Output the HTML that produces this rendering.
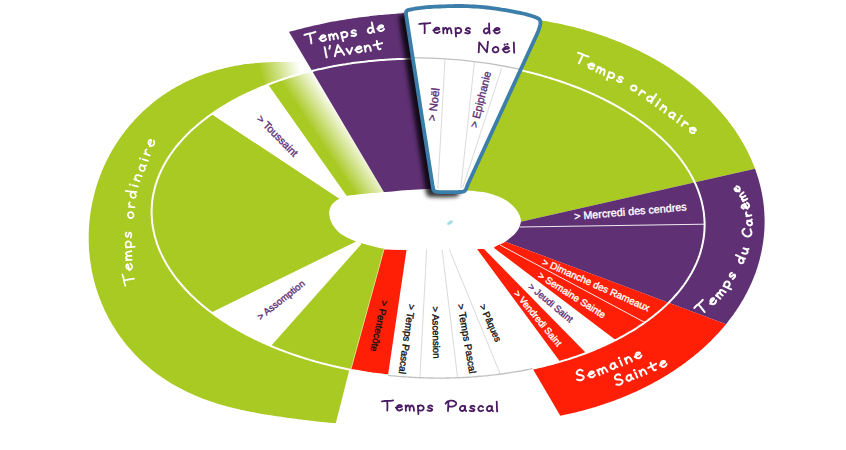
<!DOCTYPE html>
<html><head><meta charset="utf-8"><title>Année liturgique</title>
<style>html,body{margin:0;padding:0;background:#fff;font-family:"Liberation Sans",sans-serif;}svg{display:block}</style>
</head><body>
<svg width="846" height="450" viewBox="0 0 846 450" font-family="Liberation Sans, sans-serif">
<defs>
<linearGradient id="fadeRing" gradientUnits="userSpaceOnUse" x1="260" y1="72" x2="299" y2="63">
<stop offset="0" stop-color="#a9c923"/><stop offset="1" stop-color="#a9c923" stop-opacity="0"/></linearGradient>
<linearGradient id="fadeWedge" gradientUnits="userSpaceOnUse" x1="306" y1="140" x2="343" y2="115.5">
<stop offset="0.25" stop-color="#a9c923"/><stop offset="1" stop-color="#a9c923" stop-opacity="0"/></linearGradient>
<filter id="sh" x="-30%" y="-30%" width="160%" height="160%"><feGaussianBlur stdDeviation="2"/></filter>
<filter id="sm" x="-50%" y="-50%" width="200%" height="200%"><feGaussianBlur stdDeviation="0.7"/></filter>
</defs>
<path d="M339.3 198.5 L211.6 114.1 L210.7 114.8 L209.2 115.8 L207.7 116.9 L206.3 118.0 L204.9 119.1 L203.4 120.2 L202.0 121.3 L200.7 122.4 L199.3 123.5 L198.0 124.6 L196.6 125.7 L195.3 126.9 L194.0 128.0 L192.7 129.2 L191.5 130.3 L190.2 131.5 L189.0 132.7 L187.8 133.9 L186.6 135.0 L185.5 136.2 L184.3 137.4 L183.2 138.6 L182.1 139.8 L181.0 141.1 L179.9 142.3 L178.9 143.5 L177.8 144.7 L176.8 146.0 L175.8 147.2 L174.8 148.5 L173.9 149.7 L172.9 151.0 L172.0 152.3 L171.1 153.5 L170.2 154.8 L169.4 156.1 L168.5 157.4 L167.7 158.7 L166.9 160.0 L166.1 161.3 L165.4 162.6 L164.6 163.9 L163.9 165.2 L163.2 166.5 L162.5 167.8 L161.9 169.1 L161.2 170.5 L160.6 171.8 L160.0 173.1 L159.4 174.5 L158.9 175.8 L158.3 177.2 L157.8 178.5 L157.3 179.9 L156.8 181.2 L156.4 182.6 L155.9 183.9 L155.5 185.3 L155.1 186.7 L154.8 188.0 L154.4 189.4 L154.1 190.8 L153.8 192.1 L153.5 193.5 L153.2 194.9 L153.0 196.3 L152.7 197.7 L152.5 199.0 L152.3 200.4 L152.2 201.8 L152.0 203.2 L151.9 204.6 L151.8 206.0 L151.7 207.4 L151.7 208.7 L151.6 210.1 L151.6 211.5 L151.6 212.9 L151.6 214.3 L151.7 215.7 L151.8 217.1 L151.8 218.5 L152.0 219.9 L152.1 221.3 L152.2 222.7 L152.4 224.1 L152.6 225.5 L152.8 226.9 L153.1 228.2 L153.3 229.6 L153.6 231.0 L153.9 232.4 L154.2 233.8 L154.5 235.2 L154.9 236.6 L155.3 238.0 L155.7 239.3 L156.1 240.7 L156.6 242.1 L157.0 243.5 L157.5 244.9 L158.0 246.2 L158.5 247.6 L159.1 249.0 L159.6 250.3 L160.2 251.7 L160.8 253.1 L161.5 254.4 L162.1 255.8 L162.8 257.1 L163.5 258.5 L164.2 259.8 L164.9 261.2 L165.7 262.5 L166.4 263.8 L167.2 265.2 L168.0 266.5 L168.9 267.8 L169.7 269.2 L170.6 270.5 L171.5 271.8 L172.4 273.1 L173.3 274.4 L174.2 275.7 L175.2 277.0 L176.2 278.3 L177.2 279.6 L178.2 280.9 L179.3 282.2 L180.3 283.4 L181.4 284.7 L182.5 286.0 L183.6 287.2 L184.8 288.5 L185.9 289.7 L187.1 291.0 L188.3 292.2 L189.5 293.5 L190.7 294.7 L192.0 295.9 L193.2 297.1 L194.5 298.3 L195.8 299.5 L197.1 300.7 L198.5 301.9 L199.8 303.1 L201.2 304.3 L202.6 305.5 L204.0 306.6 L205.4 307.8 L206.8 308.9 L208.3 310.1 L209.8 311.2 L211.3 312.3 L212.8 313.5 L214.3 314.6 L215.8 315.7 L217.4 316.8 L218.9 317.9 L220.5 319.0 L222.1 320.1 L223.8 321.1 L225.4 322.2 L227.0 323.2 L228.7 324.3 L230.4 325.3 L232.1 326.4 L233.8 327.4 L235.5 328.4 L237.2 329.4 L239.0 330.4 L240.8 331.4 L242.5 332.4 L244.3 333.3 L246.1 334.3 L248.0 335.3 L249.8 336.2 L251.7 337.1 L253.5 338.1 L255.4 339.0 L257.3 339.9 L259.2 340.8 L261.1 341.7 L263.0 342.6 L265.0 343.4 L266.9 344.3 L268.9 345.2 L270.9 346.0 L272.9 346.8 L274.9 347.7 L276.9 348.5 L278.9 349.3 L281.0 350.1 L283.0 350.8 L285.1 351.6 L287.1 352.4 L289.2 353.1 L291.3 353.9 L293.4 354.6 L295.5 355.3 L297.6 356.0 L299.8 356.7 L301.9 357.4 L304.1 358.1 L306.2 358.8 L308.4 359.4 L310.6 360.1 L312.8 360.7 L315.0 361.4 L317.2 362.0 L319.4 362.6 L321.6 363.2 L323.8 363.8 L326.1 364.3 L328.3 364.9 L330.6 365.4 L332.8 366.0 L335.1 366.5 L337.4 367.0 L339.7 367.5 L342.0 368.0 L344.3 368.5 L346.6 369.0 L348.9 369.4 L350.8 369.8 L384.0 249.4 L390.6 225.4 Z" fill="#a9c923"/>
<path d="M308.5 62.7 L301.6 62.4 L300.1 62.3 L298.6 62.3 L297.1 62.2 L295.6 62.1 L294.1 62.1 L292.6 62.0 L291.1 62.0 L289.6 62.0 L288.0 61.9 L286.5 61.9 L285.0 61.9 L283.5 61.9 L282.0 61.9 L280.5 61.9 L279.0 61.9 L277.4 61.9 L275.9 62.0 L274.4 62.0 L272.9 62.0 L271.3 62.1 L269.8 62.2 L268.3 62.2 L266.7 62.3 L265.2 62.4 L263.7 62.5 L262.1 62.6 L260.6 62.7 L259.1 62.8 L257.5 62.9 L256.0 63.1 L254.4 63.2 L252.9 63.4 L251.3 63.5 L249.8 63.7 L248.2 63.9 L246.7 64.1 L245.1 64.3 L243.5 64.5 L243.3 64.6 L255.0 89.9 L256.6 89.3 L258.5 88.4 L260.4 87.6 L262.3 86.8 L264.2 86.1 L266.2 85.3 L268.1 84.5 L270.1 83.8 L272.1 83.0 L274.1 82.3 L276.1 81.6 L278.1 80.9 L280.2 80.1 L282.2 79.5 L284.3 78.8 L286.3 78.1 L288.4 77.4 L290.5 76.8 L292.6 76.2 L294.7 75.5 L296.8 74.9 L299.0 74.3 L301.1 73.7 L303.2 73.1 L305.4 72.6 L307.6 72.0 L309.7 71.4 L311.6 71.0 Z" fill="url(#fadeRing)"/>
<path d="M248.0 63.9 L246.7 64.1 L245.1 64.3 L243.5 64.5 L242.0 64.8 L240.4 65.0 L238.9 65.3 L237.3 65.5 L235.8 65.8 L234.2 66.1 L232.6 66.4 L231.1 66.7 L229.5 67.0 L228.0 67.4 L226.4 67.7 L224.8 68.1 L223.3 68.5 L221.7 68.9 L220.2 69.3 L218.6 69.7 L217.0 70.1 L215.5 70.5 L213.9 71.0 L212.4 71.5 L210.8 72.0 L209.3 72.5 L207.7 73.0 L206.2 73.5 L204.6 74.0 L203.1 74.6 L201.6 75.2 L200.0 75.7 L198.5 76.3 L197.0 77.0 L195.5 77.6 L193.9 78.2 L192.4 78.9 L190.9 79.5 L189.4 80.2 L187.9 80.9 L186.4 81.6 L184.9 82.4 L183.4 83.1 L181.9 83.9 L180.5 84.7 L179.0 85.4 L177.5 86.2 L176.1 87.1 L174.6 87.9 L173.2 88.7 L171.7 89.6 L170.3 90.5 L168.9 91.4 L167.5 92.3 L166.0 93.2 L164.6 94.2 L163.2 95.1 L161.9 96.1 L160.5 97.1 L159.1 98.0 L157.7 99.1 L156.4 100.1 L155.0 101.1 L153.7 102.2 L152.4 103.2 L151.1 104.3 L149.8 105.4 L148.5 106.5 L147.2 107.7 L145.9 108.8 L144.6 109.9 L143.4 111.1 L142.1 112.3 L140.9 113.5 L139.7 114.7 L138.5 115.9 L137.3 117.1 L136.1 118.4 L134.9 119.6 L133.7 120.9 L132.6 122.2 L131.4 123.5 L130.3 124.8 L129.2 126.1 L128.1 127.4 L127.0 128.8 L125.9 130.1 L124.8 131.5 L123.8 132.9 L122.7 134.3 L121.7 135.7 L120.7 137.1 L119.7 138.5 L118.7 139.9 L117.8 141.4 L116.8 142.8 L115.9 144.3 L114.9 145.8 L114.0 147.3 L113.1 148.8 L112.2 150.3 L111.4 151.8 L110.5 153.3 L109.7 154.8 L108.9 156.4 L108.0 157.9 L107.3 159.5 L106.5 161.1 L105.7 162.6 L105.0 164.2 L104.2 165.8 L103.5 167.4 L102.8 169.0 L102.1 170.6 L101.5 172.3 L100.8 173.9 L100.2 175.5 L99.6 177.2 L99.0 178.8 L98.4 180.5 L97.8 182.2 L97.3 183.8 L96.7 185.5 L96.2 187.2 L95.7 188.9 L95.2 190.6 L94.8 192.3 L94.3 194.0 L93.9 195.7 L93.5 197.4 L93.1 199.1 L92.7 200.8 L92.3 202.5 L92.0 204.3 L91.6 206.0 L91.3 207.7 L91.0 209.5 L90.7 211.2 L90.5 213.0 L90.2 214.7 L90.0 216.4 L89.8 218.2 L89.6 220.0 L89.4 221.7 L89.3 223.5 L89.2 225.2 L89.0 227.0 L88.9 228.7 L88.9 230.5 L88.8 232.3 L88.7 234.0 L88.7 235.8 L88.7 237.5 L88.7 239.3 L88.7 241.1 L88.8 242.8 L88.8 244.6 L88.9 246.3 L89.0 248.1 L89.1 249.9 L89.2 251.6 L89.4 253.4 L89.6 255.1 L89.7 256.9 L89.9 258.6 L90.2 260.4 L90.4 262.1 L90.7 263.8 L90.9 265.6 L91.2 267.3 L91.5 269.0 L91.8 270.8 L92.2 272.5 L92.6 274.2 L92.9 275.9 L93.3 277.6 L93.7 279.3 L94.2 281.0 L94.6 282.7 L95.1 284.4 L95.6 286.1 L96.1 287.7 L96.6 289.4 L97.1 291.1 L97.7 292.7 L98.2 294.4 L98.8 296.0 L99.4 297.6 L100.0 299.3 L100.7 300.9 L101.3 302.5 L102.0 304.1 L102.7 305.7 L103.4 307.3 L104.1 308.9 L104.8 310.5 L105.6 312.0 L106.3 313.6 L107.1 315.1 L107.9 316.7 L108.7 318.2 L109.5 319.7 L110.4 321.2 L111.2 322.7 L112.1 324.2 L113.0 325.7 L113.9 327.1 L114.8 328.6 L115.7 330.0 L116.6 331.5 L117.6 332.9 L118.6 334.3 L119.5 335.7 L120.5 337.1 L121.6 338.5 L122.6 339.8 L123.6 341.2 L124.7 342.5 L125.7 343.9 L126.8 345.2 L127.9 346.5 L129.0 347.8 L130.1 349.1 L131.2 350.3 L132.3 351.6 L133.5 352.8 L134.6 354.1 L135.8 355.3 L137.0 356.5 L138.2 357.7 L139.4 358.9 L140.6 360.0 L141.8 361.2 L143.0 362.3 L144.3 363.4 L145.5 364.5 L146.8 365.6 L148.1 366.7 L149.3 367.8 L150.6 368.8 L151.9 369.9 L153.2 370.9 L154.5 371.9 L155.8 372.9 L157.2 373.9 L158.5 374.9 L159.8 375.8 L161.2 376.8 L162.5 377.7 L163.9 378.6 L165.3 379.5 L166.6 380.4 L168.0 381.3 L169.4 382.2 L170.8 383.0 L172.2 383.9 L173.6 384.7 L175.0 385.5 L176.4 386.3 L177.8 387.1 L179.2 387.8 L180.6 388.6 L182.1 389.3 L183.5 390.0 L184.9 390.8 L186.3 391.5 L187.8 392.2 L189.2 392.8 L190.7 393.5 L192.1 394.1 L193.6 394.8 L195.0 395.4 L196.5 396.0 L197.9 396.6 L199.4 397.2 L200.8 397.8 L202.3 398.4 L203.8 398.9 L205.2 399.5 L206.7 400.0 L208.1 400.5 L209.6 401.0 L211.1 401.5 L212.5 402.0 L214.0 402.5 L215.5 403.0 L216.9 403.5 L218.4 403.9 L219.9 404.4 L221.3 404.8 L222.8 405.2 L224.3 405.6 L225.7 406.0 L227.2 406.4 L228.7 406.8 L230.1 407.2 L231.6 407.6 L233.1 407.9 L234.5 408.3 L236.0 408.6 L237.4 409.0 L238.9 409.3 L240.4 409.7 L241.8 410.0 L243.3 410.3 L244.7 410.6 L246.2 410.9 L247.6 411.2 L249.1 411.5 L250.5 411.8 L252.0 412.1 L253.4 412.3 L254.9 412.6 L256.3 412.9 L257.8 413.1 L259.2 413.4 L260.7 413.7 L262.1 413.9 L263.6 414.2 L265.0 414.4 L266.5 414.6 L267.9 414.9 L269.4 415.1 L270.8 415.3 L272.3 415.6 L273.7 415.8 L275.2 416.0 L276.6 416.2 L278.1 416.4 L279.5 416.6 L281.0 416.8 L282.4 417.1 L283.9 417.3 L285.3 417.5 L286.8 417.7 L288.2 417.9 L289.7 418.1 L291.2 418.3 L292.6 418.5 L294.1 418.6 L295.6 418.8 L297.0 419.0 L298.5 419.2 L300.0 419.4 L301.5 419.6 L302.9 419.8 L304.4 420.0 L305.9 420.1 L307.4 420.3 L308.9 420.5 L310.4 420.7 L311.9 420.8 L313.4 421.0 L315.0 421.2 L316.5 421.4 L318.0 421.5 L319.5 421.7 L321.1 421.9 L322.6 422.0 L324.2 422.2 L325.7 422.3 L327.3 422.5 L328.8 422.7 L330.4 422.8 L332.0 423.0 L333.6 423.1 L335.8 423.3 L349.4 369.5 L348.9 369.4 L346.6 369.0 L344.3 368.5 L342.0 368.0 L339.7 367.5 L337.4 367.0 L335.1 366.5 L332.8 366.0 L330.6 365.4 L328.3 364.9 L326.1 364.3 L323.8 363.8 L321.6 363.2 L319.4 362.6 L317.2 362.0 L315.0 361.4 L312.8 360.7 L310.6 360.1 L308.4 359.4 L306.2 358.8 L304.1 358.1 L301.9 357.4 L299.8 356.7 L297.6 356.0 L295.5 355.3 L293.4 354.6 L291.3 353.9 L289.2 353.1 L287.1 352.4 L285.1 351.6 L283.0 350.8 L281.0 350.1 L278.9 349.3 L276.9 348.5 L274.9 347.7 L272.9 346.8 L270.9 346.0 L268.9 345.2 L266.9 344.3 L265.0 343.4 L263.0 342.6 L261.1 341.7 L259.2 340.8 L257.3 339.9 L255.4 339.0 L253.5 338.1 L251.7 337.1 L249.8 336.2 L248.0 335.3 L246.1 334.3 L244.3 333.3 L242.5 332.4 L240.8 331.4 L239.0 330.4 L237.2 329.4 L235.5 328.4 L233.8 327.4 L232.1 326.4 L230.4 325.3 L228.7 324.3 L227.0 323.2 L225.4 322.2 L223.8 321.1 L222.1 320.1 L220.5 319.0 L218.9 317.9 L217.4 316.8 L215.8 315.7 L214.3 314.6 L212.8 313.5 L211.3 312.3 L209.8 311.2 L208.3 310.1 L206.8 308.9 L205.4 307.8 L204.0 306.6 L202.6 305.5 L201.2 304.3 L199.8 303.1 L198.5 301.9 L197.1 300.7 L195.8 299.5 L194.5 298.3 L193.2 297.1 L192.0 295.9 L190.7 294.7 L189.5 293.5 L188.3 292.2 L187.1 291.0 L185.9 289.7 L184.8 288.5 L183.6 287.2 L182.5 286.0 L181.4 284.7 L180.3 283.4 L179.3 282.2 L178.2 280.9 L177.2 279.6 L176.2 278.3 L175.2 277.0 L174.2 275.7 L173.3 274.4 L172.4 273.1 L171.5 271.8 L170.6 270.5 L169.7 269.2 L168.9 267.8 L168.0 266.5 L167.2 265.2 L166.4 263.8 L165.7 262.5 L164.9 261.2 L164.2 259.8 L163.5 258.5 L162.8 257.1 L162.1 255.8 L161.5 254.4 L160.8 253.1 L160.2 251.7 L159.6 250.3 L159.1 249.0 L158.5 247.6 L158.0 246.2 L157.5 244.9 L157.0 243.5 L156.6 242.1 L156.1 240.7 L155.7 239.3 L155.3 238.0 L154.9 236.6 L154.5 235.2 L154.2 233.8 L153.9 232.4 L153.6 231.0 L153.3 229.6 L153.1 228.2 L152.8 226.9 L152.6 225.5 L152.4 224.1 L152.2 222.7 L152.1 221.3 L152.0 219.9 L151.8 218.5 L151.8 217.1 L151.7 215.7 L151.6 214.3 L151.6 212.9 L151.6 211.5 L151.6 210.1 L151.7 208.7 L151.7 207.4 L151.8 206.0 L151.9 204.6 L152.0 203.2 L152.2 201.8 L152.3 200.4 L152.5 199.0 L152.7 197.7 L153.0 196.3 L153.2 194.9 L153.5 193.5 L153.8 192.1 L154.1 190.8 L154.4 189.4 L154.8 188.0 L155.1 186.7 L155.5 185.3 L155.9 183.9 L156.4 182.6 L156.8 181.2 L157.3 179.9 L157.8 178.5 L158.3 177.2 L158.9 175.8 L159.4 174.5 L160.0 173.1 L160.6 171.8 L161.2 170.5 L161.9 169.1 L162.5 167.8 L163.2 166.5 L163.9 165.2 L164.6 163.9 L165.4 162.6 L166.1 161.3 L166.9 160.0 L167.7 158.7 L168.5 157.4 L169.4 156.1 L170.2 154.8 L171.1 153.5 L172.0 152.3 L172.9 151.0 L173.9 149.7 L174.8 148.5 L175.8 147.2 L176.8 146.0 L177.8 144.7 L178.9 143.5 L179.9 142.3 L181.0 141.1 L182.1 139.8 L183.2 138.6 L184.3 137.4 L185.5 136.2 L186.6 135.0 L187.8 133.9 L189.0 132.7 L190.2 131.5 L191.5 130.3 L192.7 129.2 L194.0 128.0 L195.3 126.9 L196.6 125.7 L198.0 124.6 L199.3 123.5 L200.7 122.4 L202.0 121.3 L203.4 120.2 L204.9 119.1 L206.3 118.0 L207.7 116.9 L209.2 115.8 L210.7 114.8 L212.2 113.7 L213.7 112.7 L215.2 111.6 L216.8 110.6 L218.3 109.6 L219.9 108.5 L221.5 107.5 L223.1 106.5 L224.8 105.5 L226.4 104.6 L228.1 103.6 L229.7 102.6 L231.4 101.7 L233.1 100.7 L234.8 99.8 L236.6 98.9 L238.3 97.9 L240.1 97.0 L241.9 96.1 L243.6 95.2 L245.4 94.4 L247.3 93.5 L249.1 92.6 L250.9 91.8 L252.8 90.9 L254.7 90.1 L256.6 89.3 L258.5 88.4 L260.4 87.6 L260.7 87.5 Z" fill="#a9c923"/>
<path d="M339.3 198.5 L211.6 114.1 L212.2 113.7 L213.7 112.7 L215.2 111.6 L216.8 110.6 L218.3 109.6 L219.9 108.5 L221.5 107.5 L223.1 106.5 L224.8 105.5 L226.4 104.6 L228.1 103.6 L229.7 102.6 L231.4 101.7 L233.1 100.7 L234.8 99.8 L236.6 98.9 L238.3 97.9 L240.1 97.0 L241.9 96.1 L243.6 95.2 L245.4 94.4 L247.3 93.5 L249.1 92.6 L250.9 91.8 L252.8 90.9 L254.7 90.1 L256.6 89.3 L258.5 88.4 L260.4 87.6 L262.3 86.8 L264.2 86.1 L266.2 85.3 L268.1 84.5 L346.8 196.0 Z" fill="#fff"/>
<path d="M361.7 243.7 L271.0 346.0 L270.9 346.0 L268.9 345.2 L266.9 344.3 L265.0 343.4 L263.0 342.6 L261.1 341.7 L259.2 340.8 L257.3 339.9 L255.4 339.0 L253.5 338.1 L251.7 337.1 L249.8 336.2 L248.0 335.3 L246.1 334.3 L244.3 333.3 L242.5 332.4 L240.8 331.4 L239.0 330.4 L237.2 329.4 L235.5 328.4 L233.8 327.4 L232.1 326.4 L230.4 325.3 L228.7 324.3 L227.0 323.2 L225.4 322.2 L223.8 321.1 L222.1 320.1 L220.5 319.0 L218.9 317.9 L217.4 316.8 L215.8 315.7 L214.3 314.6 L212.8 313.5 L211.4 312.5 L356.7 241.2 Z" fill="#fff"/>
<path d="M346.8 196.0 L268.1 84.5 L268.1 84.5 L270.1 83.8 L272.1 83.0 L274.1 82.3 L276.1 81.6 L278.1 80.9 L280.2 80.1 L282.2 79.5 L284.3 78.8 L286.3 78.1 L288.4 77.4 L290.5 76.8 L292.6 76.2 L294.7 75.5 L296.8 74.9 L299.0 74.3 L301.1 73.7 L303.2 73.1 L305.4 72.6 L307.6 72.0 L309.7 71.4 L311.9 70.9 L312.0 70.9 L384.0 192.3 Z" fill="#fff"/>
<path d="M346.8 196.0 L268.1 84.5 L268.1 84.5 L270.1 83.8 L272.1 83.0 L274.1 82.3 L276.1 81.6 L278.1 80.9 L280.2 80.1 L282.2 79.5 L284.3 78.8 L286.3 78.1 L288.4 77.4 L290.5 76.8 L292.6 76.2 L294.7 75.5 L296.8 74.9 L299.0 74.3 L301.1 73.7 L303.2 73.1 L305.4 72.6 L307.6 72.0 L309.7 71.4 L311.9 70.9 L312.0 70.9 L384.0 192.3 Z" fill="url(#fadeWedge)"/>
<path d="M384.0 192.3 L288.9 31.8 L289.1 31.8 L291.1 31.3 L293.2 30.8 L295.5 30.2 L297.9 29.6 L300.4 28.9 L303.0 28.3 L305.6 27.6 L308.4 27.0 L311.2 26.3 L314.0 25.6 L316.8 25.0 L319.6 24.4 L322.3 23.7 L325.0 23.2 L327.7 22.6 L330.3 22.1 L332.9 21.6 L335.4 21.2 L338.0 20.7 L340.6 20.3 L343.1 19.9 L345.7 19.4 L348.3 19.1 L350.8 18.7 L353.4 18.3 L355.9 18.0 L358.4 17.6 L360.9 17.3 L363.4 17.0 L365.8 16.7 L368.2 16.4 L370.5 16.1 L372.8 15.8 L375.0 15.6 L377.3 15.3 L379.4 15.1 L381.6 14.9 L383.7 14.7 L385.8 14.5 L387.8 14.4 L389.9 14.2 L392.0 14.0 L394.1 13.9 L396.1 13.7 L398.2 13.6 L400.3 13.4 L402.4 13.3 L404.6 13.1 L406.8 12.9 L409.2 12.8 L411.7 12.6 L414.2 12.5 L416.8 12.3 L419.3 12.2 L421.9 12.0 L424.4 11.9 L425.2 11.8 L440.0 190.0 Z" fill="#5f3074"/>
<path d="M452.0 190.0 L469.4 15.7 L470.1 15.7 L472.5 15.7 L475.0 15.6 L477.4 15.6 L479.9 15.6 L482.4 15.6 L484.8 15.6 L487.3 15.6 L489.7 15.7 L492.2 15.7 L494.6 15.8 L497.1 15.9 L499.5 16.0 L501.9 16.2 L504.4 16.3 L506.8 16.5 L509.3 16.6 L511.7 16.8 L514.2 17.0 L516.6 17.3 L519.0 17.5 L521.5 17.7 L523.9 18.0 L526.3 18.3 L528.7 18.6 L531.1 18.9 L533.6 19.2 L536.0 19.6 L538.4 19.9 L540.8 20.3 L543.2 20.7 L545.6 21.1 L548.0 21.5 L550.3 22.0 L552.7 22.4 L555.1 22.9 L557.5 23.3 L559.8 23.8 L562.2 24.3 L564.5 24.9 L566.9 25.4 L569.2 26.0 L571.5 26.5 L573.9 27.1 L576.2 27.7 L578.5 28.3 L580.8 28.9 L583.1 29.6 L585.4 30.2 L587.7 30.9 L589.9 31.6 L592.2 32.3 L594.5 33.0 L596.7 33.7 L599.0 34.5 L601.2 35.2 L603.4 36.0 L605.6 36.8 L607.8 37.6 L610.0 38.4 L612.2 39.2 L614.4 40.0 L616.5 40.9 L618.7 41.8 L620.8 42.6 L623.0 43.5 L625.1 44.4 L627.2 45.4 L629.3 46.3 L631.4 47.2 L633.5 48.2 L635.5 49.2 L637.6 50.1 L639.6 51.1 L641.7 52.2 L643.7 53.2 L645.7 54.2 L647.7 55.3 L649.7 56.3 L651.7 57.4 L653.6 58.5 L655.6 59.6 L657.5 60.7 L659.4 61.8 L661.3 62.9 L663.2 64.1 L665.1 65.2 L667.0 66.4 L668.8 67.6 L670.6 68.8 L672.5 70.0 L674.3 71.2 L676.1 72.4 L677.8 73.7 L679.6 74.9 L681.4 76.2 L683.1 77.4 L684.8 78.7 L686.5 80.0 L688.2 81.3 L689.9 82.6 L691.5 84.0 L693.2 85.3 L694.8 86.6 L696.4 88.0 L698.0 89.3 L699.6 90.7 L701.1 92.1 L702.7 93.5 L704.2 94.9 L705.7 96.3 L707.2 97.7 L708.7 99.2 L710.1 100.6 L711.6 102.1 L713.0 103.5 L714.4 105.0 L715.8 106.5 L717.2 107.9 L718.5 109.4 L719.9 110.9 L721.2 112.4 L722.5 114.0 L723.8 115.5 L725.0 117.0 L726.3 118.6 L727.5 120.1 L728.7 121.7 L729.9 123.2 L731.1 124.8 L732.2 126.4 L733.4 128.0 L734.5 129.6 L735.6 131.1 L736.6 132.8 L737.7 134.4 L738.7 136.0 L739.7 137.6 L740.7 139.2 L741.7 140.9 L742.7 142.5 L743.6 144.2 L744.5 145.8 L745.4 147.5 L746.3 149.2 L747.2 150.8 L748.0 152.5 L748.8 154.2 L749.6 155.9 L750.4 157.6 L751.2 159.3 L751.9 161.0 L752.6 162.7 L753.3 164.4 L754.0 166.1 L754.7 167.8 L755.0 168.8 L512.0 223.7 Z" fill="#a9c923"/>
<path d="M512.0 223.7 L755.0 168.8 L755.3 169.5 L755.9 171.2 L756.5 173.0 L757.1 174.7 L757.6 176.4 L758.2 178.2 L758.7 179.9 L759.2 181.7 L759.6 183.4 L760.1 185.2 L760.5 186.9 L760.9 188.7 L761.3 190.4 L761.7 192.2 L762.0 194.0 L762.3 195.7 L762.6 197.5 L762.9 199.3 L763.2 201.0 L763.4 202.8 L763.6 204.6 L763.8 206.3 L764.0 208.1 L764.1 209.9 L764.3 211.7 L764.4 213.4 L764.4 215.2 L764.5 217.0 L764.6 218.8 L764.6 220.5 L764.6 222.3 L764.6 224.1 L764.5 225.9 L764.5 227.7 L764.4 229.4 L764.3 231.2 L764.1 233.0 L764.0 234.7 L763.8 236.5 L763.6 238.3 L763.4 240.1 L763.2 241.8 L762.9 243.6 L762.6 245.4 L762.3 247.1 L762.0 248.9 L761.7 250.6 L761.3 252.4 L760.9 254.1 L760.5 255.9 L760.1 257.6 L759.7 259.4 L759.2 261.1 L758.7 262.9 L758.2 264.6 L757.7 266.3 L757.1 268.0 L756.6 269.8 L756.0 271.5 L755.4 273.2 L754.7 274.9 L754.1 276.6 L753.4 278.3 L752.7 280.0 L752.0 281.7 L751.2 283.4 L750.5 285.1 L749.7 286.8 L748.9 288.4 L748.1 290.1 L747.3 291.8 L746.4 293.4 L745.5 295.1 L744.6 296.7 L743.7 298.4 L742.8 300.0 L741.8 301.6 L740.8 303.3 L739.8 304.9 L738.8 306.5 L737.8 308.1 L736.7 309.7 L735.7 311.3 L734.6 312.8 L733.5 314.4 L732.3 316.0 L731.2 317.5 L730.0 319.1 L728.8 320.6 L727.6 322.2 L726.4 323.7 L726.0 324.2 L503.6 241.0 Z" fill="#5f3074"/>
<path d="M726.0 324.2 L725.2 325.2 L723.9 326.7 L722.6 328.2 L721.3 329.7 L720.0 331.2 L718.7 332.7 L717.3 334.2 L715.9 335.6 L714.6 337.1 L713.1 338.5 L711.7 340.0 L710.3 341.4 L708.8 342.8 L707.4 344.2 L705.9 345.6 L704.4 347.0 L702.8 348.4 L701.3 349.8 L699.7 351.1 L698.2 352.5 L696.6 353.8 L695.0 355.1 L693.3 356.5 L691.7 357.8 L690.0 359.1 L688.4 360.3 L686.7 361.6 L685.0 362.9 L683.3 364.1 L681.5 365.4 L679.8 366.6 L678.0 367.8 L676.2 369.0 L674.5 370.2 L672.6 371.4 L670.8 372.6 L669.0 373.8 L667.1 374.9 L665.3 376.1 L663.4 377.2 L661.5 378.3 L659.6 379.4 L657.7 380.5 L655.8 381.6 L653.8 382.6 L651.9 383.7 L649.9 384.7 L647.9 385.8 L645.9 386.8 L643.9 387.8 L641.9 388.8 L639.9 389.7 L637.8 390.7 L635.8 391.7 L633.7 392.6 L631.6 393.5 L629.5 394.4 L627.4 395.3 L625.3 396.2 L623.2 397.1 L621.1 397.9 L618.9 398.8 L616.8 399.6 L614.6 400.4 L612.4 401.2 L610.2 402.0 L608.0 402.8 L605.8 403.6 L603.6 404.3 L601.4 405.0 L599.2 405.8 L596.9 406.5 L594.7 407.2 L592.4 407.8 L590.2 408.5 L587.9 409.1 L585.6 409.8 L583.3 410.4 L581.0 411.0 L578.7 411.6 L576.4 412.2 L574.1 412.7 L571.8 413.3 L569.4 413.8 L567.1 414.3 L564.8 414.8 L562.4 415.3 L560.3 415.7 L532.6 368.6 L533.2 368.4 L535.4 367.9 L537.7 367.5 L539.9 366.9 L542.1 366.4 L544.3 365.9 L546.5 365.4 L548.6 364.8 L550.8 364.2 L553.0 363.7 L555.1 363.1 L557.2 362.5 L559.4 361.9 L561.5 361.3 L563.6 360.6 L565.7 360.0 L567.8 359.4 L569.9 358.7 L571.9 358.0 L574.0 357.3 L576.0 356.7 L578.1 355.9 L580.1 355.2 L582.1 354.5 L584.1 353.8 L586.1 353.0 L588.1 352.3 L590.0 351.5 L592.0 350.7 L593.9 350.0 L595.8 349.2 L597.7 348.4 L599.6 347.5 L601.5 346.7 L603.4 345.9 L605.3 345.0 L607.1 344.2 L608.9 343.3 L610.8 342.4 L612.6 341.6 L614.3 340.7 L616.1 339.8 L617.9 338.9 L619.6 337.9 L621.4 337.0 L623.1 336.1 L624.8 335.1 L626.5 334.2 L628.1 333.2 L629.8 332.2 L631.4 331.3 L633.1 330.3 L634.7 329.3 L636.3 328.3 L637.9 327.2 L639.4 326.2 L641.0 325.2 L642.5 324.1 L644.0 323.1 L645.5 322.0 L647.0 321.0 L648.5 319.9 L649.9 318.8 L651.3 317.7 L652.8 316.6 L654.2 315.5 L655.5 314.4 L656.9 313.3 L658.2 312.2 L659.6 311.1 L660.9 309.9 L662.2 308.8 L663.5 307.6 L664.7 306.5 L666.0 305.3 L667.2 304.1 L668.4 302.9 L668.6 302.7 Z" fill="#ff1f06"/>
<path d="M503.6 241.0 L668.6 302.7 L668.4 302.9 L667.2 304.1 L666.0 305.3 L664.7 306.5 L663.5 307.6 L662.2 308.8 L660.9 309.9 L659.6 311.1 L658.2 312.2 L656.9 313.3 L655.5 314.4 L654.2 315.5 L652.8 316.6 L651.3 317.7 L649.9 318.8 L648.5 319.9 L647.0 321.0 L645.5 322.0 L644.0 323.1 L642.5 324.1 L641.0 325.2 L639.4 326.2 L637.9 327.2 L636.3 328.3 L634.7 329.3 L633.1 330.3 L631.4 331.3 L629.8 332.2 L628.1 333.2 L626.5 334.2 L624.8 335.1 L623.1 336.1 L621.4 337.0 L619.6 337.9 L617.9 338.9 L616.1 339.8 L615.6 340.0 L493.7 247.7 Z" fill="#ff1f06"/>
<path d="M484.0 249.0 L586.0 353.0 L584.1 353.8 L582.1 354.5 L580.1 355.2 L578.1 355.9 L576.0 356.7 L574.0 357.3 L571.9 358.0 L569.9 358.7 L567.8 359.4 L565.7 360.0 L563.6 360.6 L561.5 361.3 L560.1 361.7 L477.0 249.0 Z" fill="#ff1f06"/>
<path d="M406.5 250.0 L388.0 375.3 L386.5 375.2 L384.1 374.9 L381.7 374.6 L379.4 374.3 L377.0 374.0 L374.6 373.7 L372.3 373.4 L369.9 373.0 L367.5 372.7 L365.2 372.3 L362.8 371.9 L360.5 371.5 L358.2 371.1 L355.8 370.7 L353.5 370.3 L351.2 369.9 L350.8 369.8 L384.0 249.4 Z" fill="#ff1f06"/>
<path d="M532.6 368.6 L533.2 368.4 L535.4 367.9 L537.7 367.5 L539.9 366.9 L542.1 366.4 L544.3 365.9 L546.5 365.4 L548.6 364.8 L550.8 364.2 L553.0 363.7 L555.1 363.1 L557.2 362.5 L559.4 361.9 L561.5 361.3 L563.6 360.6 L565.7 360.0 L567.8 359.4 L569.9 358.7 L571.9 358.0 L574.0 357.3 L576.0 356.7 L578.1 355.9 L580.1 355.2 L582.1 354.5 L584.1 353.8 L586.1 353.0 L588.1 352.3 L590.0 351.5 L592.0 350.7 L593.9 350.0 L595.8 349.2 L597.7 348.4 L599.6 347.5 L601.5 346.7 L603.4 345.9 L605.3 345.0 L607.1 344.2 L608.9 343.3 L610.8 342.4 L612.6 341.6 L614.3 340.7 L616.1 339.8 L617.9 338.9 L619.6 337.9 L621.4 337.0 L623.1 336.1 L624.8 335.1 L626.5 334.2 L628.1 333.2 L629.8 332.2 L631.4 331.3 L633.1 330.3 L634.7 329.3 L636.3 328.3 L637.9 327.2 L639.4 326.2 L641.0 325.2 L642.5 324.1 L644.0 323.1 L645.5 322.0 L647.0 321.0 L648.5 319.9 L649.9 318.8 L651.3 317.7 L652.8 316.6 L654.2 315.5 L655.5 314.4 L656.9 313.3 L658.2 312.2 L659.6 311.1 L660.9 309.9 L662.2 308.8 L663.5 307.6 L664.7 306.5 L666.0 305.3 L667.2 304.1 L668.4 302.9 L669.6 301.8 L670.7 300.6 L671.9 299.4 L673.0 298.2 L674.1 297.0 L675.2 295.7 L676.3 294.5 L677.3 293.3 L678.4 292.1 L679.4 290.8 L680.4 289.6 L681.4 288.3 L682.3 287.1 L683.3 285.8 L684.2 284.5 L685.1 283.3 L686.0 282.0 L686.8 280.7 L687.7 279.4 L688.5 278.1 L689.3 276.8 L690.1 275.5 L690.8 274.2 L691.6 272.9 L692.3 271.6 L693.0 270.3 L693.7 269.0 L694.3 267.7 L695.0 266.3 L695.6 265.0 L696.2 263.7 L696.8 262.3 L697.3 261.0 L697.9 259.6 L698.4 258.3 L698.9 256.9 L699.4 255.6 L699.8 254.2 L700.3 252.9 L700.7 251.5 L701.1 250.1 L701.4 248.8 L701.8 247.4 L702.1 246.0 L702.4 244.7 L702.7 243.3 L703.0 241.9 L703.2 240.5 L703.5 239.1 L703.7 237.8 L703.9 236.4 L704.0 235.0 L704.2 233.6 L704.3 232.2 L704.4 230.8 L704.5 229.4 L704.5 228.1 L704.6 226.7 L704.6 225.3 L704.6 223.9 L704.6 222.5 L704.5 221.1 L704.4 219.7 L704.4 218.3 L704.2 216.9 L704.1 215.5 L704.0 214.1 L703.8 212.7 L703.6 211.3 L703.4 209.9 L703.1 208.6 L702.9 207.2 L702.6 205.8 L702.3 204.4 L702.0 203.0 L701.7 201.6 L701.3 200.2 L700.9 198.8 L700.5 197.5 L700.1 196.1 L699.6 194.7 L699.2 193.3 L698.7 191.9 L698.2 190.6 L697.7 189.2 L697.1 187.8 L696.6 186.5 L696.0 185.1 L695.4 183.7 L694.7 182.4 L694.1 181.0 L693.4 179.7 L692.7 178.3 L692.0 177.0 L691.3 175.6 L690.5 174.3 L689.8 173.0 L689.0 171.6 L688.2 170.3 L687.3 169.0 L686.5 167.6 L685.6 166.3 L684.7 165.0 L683.8 163.7 L682.9 162.4 L682.0 161.1 L681.0 159.8 L680.0 158.5 L679.0 157.2 L678.0 155.9 L676.9 154.6 L675.9 153.4 L674.8 152.1 L673.7 150.8 L672.6 149.6 L671.4 148.3 L670.3 147.1 L669.1 145.8 L667.9 144.6 L666.7 143.3 L665.5 142.1 L664.2 140.9 L663.0 139.7 L661.7 138.5 L660.4 137.3 L659.1 136.1 L657.7 134.9 L656.4 133.7 L655.0 132.5 L653.6 131.3 L652.2 130.2 L650.8 129.0 L649.4 127.9 L647.9 126.7 L646.4 125.6 L644.9 124.5 L643.4 123.3 L641.9 122.2 L640.4 121.1 L638.8 120.0 L637.3 118.9 L635.7 117.8 L634.1 116.7 L632.4 115.7 L630.8 114.6 L629.2 113.6 L627.5 112.5 L625.8 111.5 L624.1 110.4 L622.4 109.4 L620.7 108.4 L619.0 107.4 L617.2 106.4 L615.4 105.4 L613.7 104.4 L611.9 103.5 L610.1 102.5 L608.2 101.5 L606.4 100.6 L604.5 99.7 L602.7 98.7 L600.8 97.8 L598.9 96.9 L597.0 96.0 L595.1 95.1 L593.2 94.2 L591.2 93.4 L589.3 92.5 L587.3 91.6 L585.3 90.8 L583.3 90.0 L581.3 89.1 L579.3 88.3 L577.3 87.5 L575.2 86.7 L573.2 86.0 L571.1 85.2 L569.1 84.4 L567.0 83.7 L564.9 82.9 L562.8 82.2 L560.7 81.5 L558.6 80.8 L556.4 80.1 L554.3 79.4 L552.1 78.7 L550.0 78.0 L547.8 77.4 L545.6 76.7 L543.4 76.1 L541.2 75.4 L539.0 74.8 L536.8 74.2 L534.6 73.6 L532.4 73.0 L530.1 72.5 L527.9 71.9 L525.6 71.4 L523.4 70.8 L521.1 70.3 L518.8 69.8 L516.5 69.3 L514.2 68.8 L511.9 68.3 L509.6 67.8 L507.3 67.4 L505.0 66.9 L502.7 66.5 L500.4 66.1 L498.0 65.7 L495.7 65.3 L493.4 64.9 L491.0 64.5 L488.7 64.1 L486.3 63.8 L483.9 63.4 L481.6 63.1 L479.2 62.8 L476.8 62.5 L474.5 62.2 L472.1 61.9 L469.7 61.6 L467.3 61.4 L464.9 61.1 L462.5 60.9 L460.1 60.7 L457.7 60.4 L455.3 60.2 L452.9 60.1 L450.5 59.9 L448.1 59.7 L445.7 59.6 L443.3 59.4 L440.9 59.3 L438.5 59.2 L436.1 59.1 L433.7 59.0 L431.3 58.9 L428.8 58.9 L426.4 58.8 L424.0 58.8 L421.6 58.7 L419.2 58.7 L416.8 58.7 L414.4 58.7 L412.0 58.7 L409.6 58.8 L407.1 58.8 L404.7 58.9 L402.3 58.9 L399.9 59.0 L397.5 59.1 L395.1 59.2 L392.7 59.3 L390.4 59.4 L388.0 59.6 L385.6 59.7 L383.2 59.9 L380.8 60.1 L378.4 60.3 L376.1 60.5 L373.7 60.7 L371.3 60.9 L369.0 61.1 L366.6 61.4 L364.3 61.7 L361.9 61.9 L359.6 62.2 L357.3 62.5 L354.9 62.8 L352.6 63.1 L350.3 63.5 L348.0 63.8 L345.7 64.2 L343.4 64.5 L341.1 64.9 L338.8 65.3 L336.5 65.7 L334.2 66.1 L332.0 66.6 L329.7 67.0 L327.5 67.4 L325.2 67.9 L323.0 68.4 L320.8 68.9 L318.5 69.3 L316.3 69.9 L314.1 70.4 L311.9 70.9 L309.7 71.4 L307.6 72.0 L305.4 72.6 L303.2 73.1 L301.1 73.7 L299.0 74.3 L296.8 74.9 L294.7 75.5 L292.6 76.2 L290.5 76.8 L288.4 77.4 L286.3 78.1 L284.3 78.8 L282.2 79.5 L280.2 80.1 L278.1 80.9 L276.1 81.6 L274.1 82.3 L272.1 83.0 L270.1 83.8 L268.1 84.5 L266.2 85.3 L264.2 86.1 L262.3 86.8 L260.4 87.6 L258.5 88.4 L256.6 89.3 L254.7 90.1 L252.8 90.9 L250.9 91.8 L249.1 92.6 L247.3 93.5 L245.4 94.4 L243.6 95.2 L241.9 96.1 L240.1 97.0 L238.3 97.9 L236.6 98.9 L234.8 99.8 L233.1 100.7 L231.4 101.7 L229.7 102.6 L228.1 103.6 L226.4 104.6 L224.8 105.5 L223.1 106.5 L221.5 107.5 L219.9 108.5 L218.3 109.6 L216.8 110.6 L215.2 111.6 L213.7 112.7 L212.2 113.7 L210.7 114.8 L209.2 115.8 L207.7 116.9 L206.3 118.0 L204.9 119.1 L203.4 120.2 L202.0 121.3 L200.7 122.4 L199.3 123.5 L198.0 124.6 L196.6 125.7 L195.3 126.9 L194.0 128.0 L192.7 129.2 L191.5 130.3 L190.2 131.5 L189.0 132.7 L187.8 133.9 L186.6 135.0 L185.5 136.2 L184.3 137.4 L183.2 138.6 L182.1 139.8 L181.0 141.1 L179.9 142.3 L178.9 143.5 L177.8 144.7 L176.8 146.0 L175.8 147.2 L174.8 148.5 L173.9 149.7 L172.9 151.0 L172.0 152.3 L171.1 153.5 L170.2 154.8 L169.4 156.1 L168.5 157.4 L167.7 158.7 L166.9 160.0 L166.1 161.3 L165.4 162.6 L164.6 163.9 L163.9 165.2 L163.2 166.5 L162.5 167.8 L161.9 169.1 L161.2 170.5 L160.6 171.8 L160.0 173.1 L159.4 174.5 L158.9 175.8 L158.3 177.2 L157.8 178.5 L157.3 179.9 L156.8 181.2 L156.4 182.6 L155.9 183.9 L155.5 185.3 L155.1 186.7 L154.8 188.0 L154.4 189.4 L154.1 190.8 L153.8 192.1 L153.5 193.5 L153.2 194.9 L153.0 196.3 L152.7 197.7 L152.5 199.0 L152.3 200.4 L152.2 201.8 L152.0 203.2 L151.9 204.6 L151.8 206.0 L151.7 207.4 L151.7 208.7 L151.6 210.1 L151.6 211.5 L151.6 212.9 L151.6 214.3 L151.7 215.7 L151.8 217.1 L151.8 218.5 L152.0 219.9 L152.1 221.3 L152.2 222.7 L152.4 224.1 L152.6 225.5 L152.8 226.9 L153.1 228.2 L153.3 229.6 L153.6 231.0 L153.9 232.4 L154.2 233.8 L154.5 235.2 L154.9 236.6 L155.3 238.0 L155.7 239.3 L156.1 240.7 L156.6 242.1 L157.0 243.5 L157.5 244.9 L158.0 246.2 L158.5 247.6 L159.1 249.0 L159.6 250.3 L160.2 251.7 L160.8 253.1 L161.5 254.4 L162.1 255.8 L162.8 257.1 L163.5 258.5 L164.2 259.8 L164.9 261.2 L165.7 262.5 L166.4 263.8 L167.2 265.2 L168.0 266.5 L168.9 267.8 L169.7 269.2 L170.6 270.5 L171.5 271.8 L172.4 273.1 L173.3 274.4 L174.2 275.7 L175.2 277.0 L176.2 278.3 L177.2 279.6 L178.2 280.9 L179.3 282.2 L180.3 283.4 L181.4 284.7 L182.5 286.0 L183.6 287.2 L184.8 288.5 L185.9 289.7 L187.1 291.0 L188.3 292.2 L189.5 293.5 L190.7 294.7 L192.0 295.9 L193.2 297.1 L194.5 298.3 L195.8 299.5 L197.1 300.7 L198.5 301.9 L199.8 303.1 L201.2 304.3 L202.6 305.5 L204.0 306.6 L205.4 307.8 L206.8 308.9 L208.3 310.1 L209.8 311.2 L211.3 312.3 L212.8 313.5 L214.3 314.6 L215.8 315.7 L217.4 316.8 L218.9 317.9 L220.5 319.0 L222.1 320.1 L223.8 321.1 L225.4 322.2 L227.0 323.2 L228.7 324.3 L230.4 325.3 L232.1 326.4 L233.8 327.4 L235.5 328.4 L237.2 329.4 L239.0 330.4 L240.8 331.4 L242.5 332.4 L244.3 333.3 L246.1 334.3 L248.0 335.3 L249.8 336.2 L251.7 337.1 L253.5 338.1 L255.4 339.0 L257.3 339.9 L259.2 340.8 L261.1 341.7 L263.0 342.6 L265.0 343.4 L266.9 344.3 L268.9 345.2 L270.9 346.0 L272.9 346.8 L274.9 347.7 L276.9 348.5 L278.9 349.3 L281.0 350.1 L283.0 350.8 L285.1 351.6 L287.1 352.4 L289.2 353.1 L291.3 353.9 L293.4 354.6 L295.5 355.3 L297.6 356.0 L299.8 356.7 L301.9 357.4 L304.1 358.1 L306.2 358.8 L308.4 359.4 L310.6 360.1 L312.8 360.7 L315.0 361.4 L317.2 362.0 L319.4 362.6 L321.6 363.2 L323.8 363.8 L326.1 364.3 L328.3 364.9 L330.6 365.4 L332.8 366.0 L335.1 366.5 L337.4 367.0 L339.7 367.5 L342.0 368.0 L344.3 368.5 L346.6 369.0 L348.9 369.4 L351.2 369.9 L353.5 370.3 L355.8 370.7 L358.2 371.1 L360.5 371.5 L362.8 371.9 L365.2 372.3 L367.5 372.7 L369.9 373.0 L372.3 373.4 L374.6 373.7 L377.0 374.0 L379.4 374.3 L381.7 374.6 L384.1 374.9 L386.5 375.2 L388.0 375.3" fill="none" stroke="#fff" stroke-width="2"/>
<path d="M388.0 375.3 L388.9 375.4 L391.3 375.7 L393.7 375.9 L396.1 376.1 L398.5 376.4 L400.9 376.6 L403.3 376.7 L405.7 376.9 L408.1 377.1 L410.5 377.2 L412.9 377.4 L415.3 377.5 L417.7 377.6 L420.1 377.7 L422.5 377.8 L424.9 377.9 L427.4 377.9 L429.8 378.0 L432.2 378.0 L434.6 378.1 L437.0 378.1 L439.4 378.1 L441.8 378.1 L444.2 378.1 L446.6 378.0 L449.1 378.0 L451.5 377.9 L453.9 377.9 L456.3 377.8 L458.7 377.7 L461.1 377.6 L463.5 377.5 L465.8 377.4 L468.2 377.2 L470.6 377.1 L473.0 376.9 L475.4 376.7 L477.8 376.5 L480.1 376.3 L482.5 376.1 L484.9 375.9 L487.2 375.7 L489.6 375.4 L491.9 375.1 L494.3 374.9 L496.6 374.6 L498.9 374.3 L501.3 374.0 L503.6 373.7 L505.9 373.3 L508.2 373.0 L510.5 372.6 L512.8 372.3 L515.1 371.9 L517.4 371.5 L519.7 371.1 L522.0 370.7 L524.2 370.2 L526.5 369.8 L528.7 369.4 L531.0 368.9 L532.6 368.6" fill="none" stroke="#c2c2c2" stroke-width="1.4"/>
<path d="M519.8 227.0 L704.6 224.2" stroke="#fff" stroke-width="0.9"/>
<path d="M500.0 245.0 L644.9 322.5" stroke="#fff" stroke-width="0.9"/>
<path d="M426.7 248.7 L419.9 377.7" stroke="#cfcfcf" stroke-width="0.8"/>
<path d="M442.0 248.7 L457.6 377.7" stroke="#cfcfcf" stroke-width="0.8"/>
<path d="M449.0 248.7 L500.3 374.1" stroke="#cfcfcf" stroke-width="0.8"/>
<path d="M384.0 249.4 L350.8 369.8" stroke="#d8ee9a" stroke-width="0.8"/>
<path d="M329.2 213.8 L329.2 212.4 L329.3 211.1 L329.5 209.9 L329.9 208.7 L330.3 207.7 L330.7 206.7 L331.1 205.8 L331.7 205.0 L332.2 204.2 L332.8 203.5 L333.5 202.9 L334.2 202.2 L335.0 201.5 L335.8 200.9 L336.6 200.3 L337.5 199.8 L338.5 199.2 L339.5 198.7 L340.5 198.2 L341.3 197.7 L342.3 197.3 L343.4 196.8 L344.8 196.4 L346.7 196.0 L349.1 195.6 L352.0 195.2 L355.2 194.8 L358.6 194.5 L361.9 194.1 L365.0 193.8 L367.9 193.5 L370.6 193.3 L373.3 193.1 L376.1 192.9 L379.0 192.7 L382.2 192.4 L385.7 192.1 L389.3 191.7 L393.1 191.4 L397.0 191.0 L401.0 190.6 L405.0 190.3 L409.1 190.0 L413.4 189.7 L417.7 189.5 L422.0 189.2 L426.1 189.0 L430.0 188.9 L433.6 188.8 L437.0 188.8 L440.3 188.9 L443.5 188.9 L446.7 189.1 L450.0 189.2 L453.5 189.4 L457.0 189.6 L460.6 189.8 L464.1 190.1 L467.6 190.4 L470.9 190.7 L474.1 191.0 L477.1 191.4 L480.1 191.7 L482.9 192.1 L485.8 192.6 L488.6 193.3 L491.4 194.1 L494.3 195.0 L497.0 196.0 L499.7 197.1 L502.3 198.3 L504.6 199.5 L506.8 200.8 L508.8 202.2 L510.6 203.7 L512.3 205.3 L513.9 206.8 L515.3 208.4 L516.6 210.0 L517.7 211.7 L518.7 213.4 L519.5 215.0 L520.1 216.7 L520.6 218.2 L520.8 219.6 L520.9 221.0 L520.8 222.4 L520.5 223.7 L520.1 224.9 L519.7 226.2 L519.2 227.4 L518.6 228.7 L517.9 229.9 L517.1 231.0 L516.2 232.2 L515.3 233.3 L514.3 234.4 L513.1 235.5 L511.9 236.6 L510.7 237.6 L509.4 238.6 L508.2 239.5 L507.1 240.4 L506.0 241.2 L504.9 241.9 L503.8 242.7 L502.5 243.3 L501.1 244.0 L499.5 244.6 L497.8 245.2 L496.0 245.8 L494.0 246.3 L492.1 246.7 L490.0 247.2 L488.0 247.6 L486.1 248.0 L484.0 248.4 L481.8 248.8 L479.2 249.1 L476.2 249.3 L472.6 249.5 L468.5 249.5 L464.1 249.6 L459.5 249.6 L454.7 249.6 L450.0 249.6 L445.1 249.6 L439.9 249.6 L434.6 249.6 L429.4 249.6 L424.5 249.6 L420.0 249.6 L416.1 249.6 L412.5 249.6 L409.2 249.6 L406.1 249.6 L403.1 249.6 L400.0 249.5 L396.9 249.4 L394.0 249.4 L391.2 249.3 L388.3 249.1 L385.3 248.8 L382.2 248.4 L378.7 247.7 L374.8 246.8 L370.8 245.8 L367.0 244.8 L363.6 243.8 L360.9 243.1 L359.2 242.7 L358.2 242.4 L357.8 242.3 L357.4 242.2 L356.7 241.9 L355.5 241.3 L353.6 240.5 L351.2 239.4 L348.6 238.3 L346.0 237.0 L343.5 235.6 L341.3 234.2 L339.4 232.7 L337.7 231.2 L336.2 229.5 L334.7 227.8 L333.5 226.1 L332.4 224.4 L331.5 222.6 L330.7 220.8 L330.1 218.9 L329.7 217.1 L329.4 215.4 Z" fill="#fff"/>
<ellipse cx="450" cy="222.6" rx="3.4" ry="1.7" fill="#7fd0da" opacity="0.75" transform="rotate(-33 450 222.6)" filter="url(#sm)"/>
<path d="M406.0 14.5 L406.0 14.2 L406.0 13.8 L406.0 13.4 L406.1 12.8 L406.1 12.3 L406.2 11.8 L406.4 11.4 L406.6 11.0 L406.9 10.7 L407.1 10.5 L407.4 10.3 L407.7 10.2 L408.1 10.0 L408.7 9.9 L409.5 9.7 L410.5 9.5 L411.8 9.3 L413.3 9.0 L414.9 8.7 L416.7 8.4 L418.7 8.1 L420.7 7.9 L422.9 7.6 L425.0 7.4 L427.2 7.2 L429.6 7.0 L432.1 6.9 L434.7 6.7 L437.3 6.6 L439.9 6.5 L442.5 6.4 L445.0 6.3 L447.5 6.2 L449.9 6.1 L452.3 6.1 L454.7 6.0 L457.1 6.0 L459.6 6.0 L462.3 6.0 L465.0 6.1 L467.9 6.2 L470.8 6.3 L473.8 6.5 L476.9 6.7 L480.0 6.9 L483.3 7.2 L486.6 7.5 L490.0 7.9 L493.6 8.4 L497.5 8.9 L501.5 9.6 L505.6 10.2 L509.6 10.9 L513.4 11.6 L516.9 12.3 L520.0 12.9 L522.7 13.5 L525.1 14.0 L527.3 14.6 L529.3 15.2 L531.1 15.7 L532.7 16.2 L534.2 16.8 L535.5 17.3 L536.7 17.8 L537.6 18.2 L538.4 18.7 L539.0 19.1 L539.5 19.5 L539.8 20.1 L540.1 20.7 L540.3 21.5 L540.4 22.4 L540.4 23.4 L540.2 24.6 L539.9 25.8 L539.6 27.0 L539.2 28.3 L538.8 29.6 L538.3 31.0 L537.7 32.5 L537.0 34.1 L536.3 35.9 L535.4 37.7 L534.6 39.4 L533.9 40.9 L533.2 42.2 L532.8 43.2 L467.5 185.0 L467.3 185.6 L467.0 186.5 L466.7 187.5 L466.3 188.6 L465.8 189.6 L465.2 190.3 L464.7 190.8 L464.3 191.2 L463.8 191.5 L463.0 191.7 L461.8 191.9 L460.0 192.0 L457.2 192.1 L453.4 192.2 L449.2 192.2 L445.0 192.2 L441.3 192.1 L438.5 192.0 L436.8 191.9 L435.7 191.7 L435.1 191.5 L434.8 191.3 L434.5 191.0 L434.2 190.6 L433.8 190.1 L433.5 189.4 L433.2 188.7 L433.1 188.0 L432.9 187.4 L432.8 187.0 Z" fill="#000" opacity="0.8" filter="url(#sh)" transform="translate(-7,5)"/>
<path d="M406.0 14.5 L406.0 14.2 L406.0 13.8 L406.0 13.4 L406.1 12.8 L406.1 12.3 L406.2 11.8 L406.4 11.4 L406.6 11.0 L406.9 10.7 L407.1 10.5 L407.4 10.3 L407.7 10.2 L408.1 10.0 L408.7 9.9 L409.5 9.7 L410.5 9.5 L411.8 9.3 L413.3 9.0 L414.9 8.7 L416.7 8.4 L418.7 8.1 L420.7 7.9 L422.9 7.6 L425.0 7.4 L427.2 7.2 L429.6 7.0 L432.1 6.9 L434.7 6.7 L437.3 6.6 L439.9 6.5 L442.5 6.4 L445.0 6.3 L447.5 6.2 L449.9 6.1 L452.3 6.1 L454.7 6.0 L457.1 6.0 L459.6 6.0 L462.3 6.0 L465.0 6.1 L467.9 6.2 L470.8 6.3 L473.8 6.5 L476.9 6.7 L480.0 6.9 L483.3 7.2 L486.6 7.5 L490.0 7.9 L493.6 8.4 L497.5 8.9 L501.5 9.6 L505.6 10.2 L509.6 10.9 L513.4 11.6 L516.9 12.3 L520.0 12.9 L522.7 13.5 L525.1 14.0 L527.3 14.6 L529.3 15.2 L531.1 15.7 L532.7 16.2 L534.2 16.8 L535.5 17.3 L536.7 17.8 L537.6 18.2 L538.4 18.7 L539.0 19.1 L539.5 19.5 L539.8 20.1 L540.1 20.7 L540.3 21.5 L540.4 22.4 L540.4 23.4 L540.2 24.6 L539.9 25.8 L539.6 27.0 L539.2 28.3 L538.8 29.6 L538.3 31.0 L537.7 32.5 L537.0 34.1 L536.3 35.9 L535.4 37.7 L534.6 39.4 L533.9 40.9 L533.2 42.2 L532.8 43.2 L467.5 185.0 L467.3 185.6 L467.0 186.5 L466.7 187.5 L466.3 188.6 L465.8 189.6 L465.2 190.3 L464.7 190.8 L464.3 191.2 L463.8 191.5 L463.0 191.7 L461.8 191.9 L460.0 192.0 L457.2 192.1 L453.4 192.2 L449.2 192.2 L445.0 192.2 L441.3 192.1 L438.5 192.0 L436.8 191.9 L435.7 191.7 L435.1 191.5 L434.8 191.3 L434.5 191.0 L434.2 190.6 L433.8 190.1 L433.5 189.4 L433.2 188.7 L433.1 188.0 L432.9 187.4 L432.8 187.0 Z" fill="#fff"/>
<path d="M412 57.6 Q470 58 521 69.6" fill="none" stroke="#c0c0c0" stroke-width="1.3"/>
<path d="M445.0 59.5 L437.8 188.0" stroke="#d0d0d0" stroke-width="0.8"/>
<path d="M474.4 62.0 L460.8 188.0" stroke="#d0d0d0" stroke-width="0.8"/>
<path d="M501.7 68.4 L462.6 188.0" stroke="#d0d0d0" stroke-width="0.8"/>
<path d="M406.0 14.5 L406.0 14.2 L406.0 13.8 L406.0 13.4 L406.1 12.8 L406.1 12.3 L406.2 11.8 L406.4 11.4 L406.6 11.0 L406.9 10.7 L407.1 10.5 L407.4 10.3 L407.7 10.2 L408.1 10.0 L408.7 9.9 L409.5 9.7 L410.5 9.5 L411.8 9.3 L413.3 9.0 L414.9 8.7 L416.7 8.4 L418.7 8.1 L420.7 7.9 L422.9 7.6 L425.0 7.4 L427.2 7.2 L429.6 7.0 L432.1 6.9 L434.7 6.7 L437.3 6.6 L439.9 6.5 L442.5 6.4 L445.0 6.3 L447.5 6.2 L449.9 6.1 L452.3 6.1 L454.7 6.0 L457.1 6.0 L459.6 6.0 L462.3 6.0 L465.0 6.1 L467.9 6.2 L470.8 6.3 L473.8 6.5 L476.9 6.7 L480.0 6.9 L483.3 7.2 L486.6 7.5 L490.0 7.9 L493.6 8.4 L497.5 8.9 L501.5 9.6 L505.6 10.2 L509.6 10.9 L513.4 11.6 L516.9 12.3 L520.0 12.9 L522.7 13.5 L525.1 14.0 L527.3 14.6 L529.3 15.2 L531.1 15.7 L532.7 16.2 L534.2 16.8 L535.5 17.3 L536.7 17.8 L537.6 18.2 L538.4 18.7 L539.0 19.1 L539.5 19.5 L539.8 20.1 L540.1 20.7 L540.3 21.5 L540.4 22.4 L540.4 23.4 L540.2 24.6 L539.9 25.8 L539.6 27.0 L539.2 28.3 L538.8 29.6 L538.3 31.0 L537.7 32.5 L537.0 34.1 L536.3 35.9 L535.4 37.7 L534.6 39.4 L533.9 40.9 L533.2 42.2 L532.8 43.2 L467.5 185.0 L467.3 185.6 L467.0 186.5 L466.7 187.5 L466.3 188.6 L465.8 189.6 L465.2 190.3 L464.7 190.8 L464.3 191.2 L463.8 191.5 L463.0 191.7 L461.8 191.9 L460.0 192.0 L457.2 192.1 L453.4 192.2 L449.2 192.2 L445.0 192.2 L441.3 192.1 L438.5 192.0 L436.8 191.9 L435.7 191.7 L435.1 191.5 L434.8 191.3 L434.5 191.0 L434.2 190.6 L433.8 190.1 L433.5 189.4 L433.2 188.7 L433.1 188.0 L432.9 187.4 L432.8 187.0 Z" fill="none" stroke="#3b7eaa" stroke-width="3.8" stroke-linejoin="round"/>
<text x="256.3" y="119.4" transform="rotate(45.5 256.3 119.4)" fill="#5f3074" stroke="#5f3074" stroke-width="0.35" font-size="10.53">&gt; Toussaint</text>
<text x="260.6" y="320.5" transform="rotate(-38.4 260.6 320.5)" fill="#5f3074" stroke="#5f3074" stroke-width="0.35" font-size="9.54">&gt; Assomption</text>
<text x="435.5" y="121.5" transform="rotate(-83.1 435.5 121.5)" fill="#5f3074" stroke="#5f3074" stroke-width="0.35" font-size="11.36">&gt; Noël</text>
<text x="477.2" y="128.3" transform="rotate(-76.0 477.2 128.3)" fill="#5f3074" stroke="#5f3074" stroke-width="0.35" font-size="10.87">&gt; Epiphanie</text>
<text x="574.4" y="220.0" transform="rotate(-4.9 574.4 220.0)" fill="#fff" stroke="#fff" stroke-width="0.35" font-size="10.79">&gt; Mercredi des cendres</text>
<text x="541.4" y="264.4" transform="rotate(23.9 541.4 264.4)" fill="#fff" stroke="#fff" stroke-width="0.35" font-size="9.87">&gt; Dimanche des Rameaux</text>
<text x="537.3" y="277.2" transform="rotate(32.2 537.3 277.2)" fill="#fff" stroke="#fff" stroke-width="0.35" font-size="9.80">&gt; Semaine Sainte</text>
<text x="527.5" y="287.7" transform="rotate(39.9 527.5 287.7)" fill="#5f3074" stroke="#5f3074" stroke-width="0.35" font-size="9.49">&gt; Jeudi Saint</text>
<text x="513.5" y="293.8" transform="rotate(50.5 513.5 293.8)" fill="#fff" stroke="#fff" stroke-width="0.35" font-size="9.38">&gt; Vendredi Saint</text>
<text x="479.3" y="306.0" transform="rotate(65.9 479.3 306.0)" fill="#111" stroke="#111" stroke-width="0.35" font-size="9.45">&gt; Pâques</text>
<text x="457.3" y="304.4" transform="rotate(80.1 457.3 304.4)" fill="#111" stroke="#111" stroke-width="0.35" font-size="10.01">&gt; Temps Pascal</text>
<text x="432.1" y="306.4" transform="rotate(88.7 432.1 306.4)" fill="#111" stroke="#111" stroke-width="0.35" font-size="9.65">&gt; Ascension</text>
<text x="408.4" y="303.7" transform="rotate(98.0 408.4 303.7)" fill="#111" stroke="#111" stroke-width="0.35" font-size="9.96">&gt; Temps Pascal</text>
<text x="381.5" y="300.0" transform="rotate(102.4 381.5 300.0)" fill="#111" stroke="#111" stroke-width="0.35" font-size="9.71">&gt; Pentecôte</text>
<path d="M304.4 34.9 L304.8 34.8 L305.3 34.7 L305.9 34.5 L306.5 34.3 L307.2 34.1 L307.8 33.9 L308.4 33.8 L309.1 33.6 L309.8 33.5 L310.4 33.4 L311.1 33.3 L311.7 33.1 L312.4 32.9 L313.1 32.7 L313.8 32.5 L314.5 32.3 L315.0 32.1 L315.4 31.9 M309.6 33.6 L309.7 34.1 L309.9 34.8 L310.1 35.7 L310.3 36.6 L310.5 37.6 L310.7 38.4 L310.8 39.3 L311.0 40.2 L311.1 41.2 L311.2 42.0 L311.3 42.7 L311.4 43.3 M319.4 38.8 L319.7 38.7 L320.2 38.6 L320.7 38.4 L321.2 38.2 L321.8 38.0 L322.3 37.8 L322.8 37.6 L323.4 37.4 L324.0 37.2 L324.5 37.0 L324.9 36.8 L325.2 36.7 L325.3 36.5 L325.3 36.2 L325.2 36.0 L325.0 35.8 L324.8 35.6 L324.5 35.5 L324.2 35.4 L323.9 35.4 L323.5 35.3 L323.1 35.3 L322.7 35.4 L322.4 35.5 L322.0 35.7 L321.7 35.9 L321.3 36.2 L321.0 36.6 L320.8 36.9 L320.6 37.3 L320.5 37.7 L320.4 38.1 L320.4 38.6 L320.4 39.0 L320.5 39.4 L320.7 39.8 L320.9 40.1 L321.1 40.3 L321.5 40.6 L321.8 40.8 L322.2 40.9 L322.5 41.0 L322.8 41.0 L323.2 41.0 L323.6 40.9 L323.9 40.8 L324.3 40.7 L324.6 40.5 L324.9 40.3 L325.2 40.1 L325.5 39.7 L325.7 39.5 L326.0 39.2 L326.1 39.0 M328.8 34.7 L328.9 35.0 L329.0 35.4 L329.1 35.9 L329.2 36.4 L329.4 37.0 L329.5 37.4 L329.6 37.9 L329.7 38.4 L329.8 38.9 L329.9 39.4 L330.0 39.8 L330.0 40.1 M329.5 37.1 L329.6 36.8 L329.8 36.4 L329.9 35.9 L330.1 35.5 L330.3 35.0 L330.5 34.7 L330.7 34.5 L331.0 34.4 L331.2 34.3 L331.4 34.2 L331.7 34.3 L331.9 34.3 L332.1 34.5 L332.3 34.6 L332.5 34.9 L332.7 35.2 L332.9 35.5 L333.1 35.9 L333.2 36.4 L333.4 37.0 L333.5 37.7 L333.6 38.3 L333.8 38.8 L333.8 39.2 M333.3 36.4 L333.5 36.1 L333.6 35.7 L333.8 35.3 L334.0 34.8 L334.2 34.4 L334.5 34.1 L334.7 33.9 L334.9 33.7 L335.2 33.7 L335.5 33.7 L335.7 33.7 L336.0 33.8 L336.2 34.0 L336.4 34.2 L336.6 34.5 L336.8 34.8 L337.0 35.2 L337.2 35.6 L337.4 36.0 L337.6 36.6 L337.8 37.2 L338.0 37.8 L338.1 38.3 L338.2 38.6 M341.1 32.7 L341.2 33.2 L341.4 33.9 L341.6 34.6 L341.7 35.5 L341.9 36.3 L342.1 37.1 L342.3 37.8 L342.5 38.6 L342.7 39.3 L342.9 40.0 L343.1 40.6 L343.2 41.0 M341.5 33.8 L341.7 33.5 L341.9 33.2 L342.2 32.9 L342.6 32.6 L343.0 32.3 L343.3 32.1 L343.7 32.0 L344.2 31.9 L344.7 31.9 L345.2 32.0 L345.6 32.1 L346.0 32.3 L346.3 32.5 L346.6 32.7 L346.9 33.0 L347.1 33.4 L347.3 33.7 L347.4 34.1 L347.4 34.5 L347.3 34.9 L347.2 35.3 L347.0 35.7 L346.8 36.1 L346.6 36.4 L346.3 36.6 L346.0 36.8 L345.6 37.0 L345.2 37.1 L344.8 37.2 L344.4 37.3 L344.0 37.3 L343.6 37.2 L343.2 37.1 L342.8 37.0 L342.5 36.8 L342.3 36.8 M355.7 30.8 L355.4 30.7 L355.1 30.6 L354.8 30.5 L354.4 30.4 L354.0 30.3 L353.7 30.3 L353.3 30.4 L353.0 30.5 L352.7 30.7 L352.3 30.9 L352.1 31.1 L351.9 31.3 L351.7 31.5 L351.7 31.8 L351.6 32.0 L351.6 32.3 L351.7 32.5 L351.8 32.7 L352.0 32.8 L352.3 32.9 L352.7 33.0 L353.0 33.0 L353.4 33.1 L353.7 33.2 L354.1 33.2 L354.4 33.3 L354.8 33.4 L355.2 33.4 L355.5 33.5 L355.7 33.6 L355.9 33.8 L356.0 34.0 L356.1 34.1 L356.2 34.3 L356.1 34.6 L356.1 34.7 L355.9 34.9 L355.7 35.1 L355.5 35.4 L355.2 35.6 L354.8 35.7 L354.5 35.8 L354.0 35.9 L353.5 35.9 L352.9 35.8 L352.3 35.8 L351.8 35.7 L351.5 35.7 M372.5 28.6 L372.3 28.4 L372.0 28.3 L371.7 28.0 L371.3 27.8 L370.9 27.7 L370.6 27.6 L370.2 27.7 L369.9 27.8 L369.5 28.0 L369.2 28.2 L368.8 28.4 L368.6 28.7 L368.4 29.0 L368.2 29.4 L368.0 29.8 L367.9 30.2 L367.8 30.6 L367.8 30.9 L367.9 31.3 L368.1 31.6 L368.3 32.0 L368.6 32.3 L368.9 32.6 L369.2 32.7 L369.5 32.9 L369.8 32.9 L370.2 33.0 L370.5 32.9 L370.9 32.8 L371.2 32.7 L371.5 32.4 L371.8 32.0 L372.1 31.6 L372.4 31.1 L372.6 30.8 L372.8 30.5 M371.8 22.4 L371.9 23.0 L372.1 23.9 L372.3 25.0 L372.5 26.1 L372.8 27.2 L373.0 28.1 L373.2 29.0 L373.5 29.8 L373.7 30.6 L373.9 31.3 L374.1 31.9 L374.3 32.3 M377.3 28.8 L377.6 28.7 L378.0 28.6 L378.5 28.4 L379.1 28.2 L379.6 28.0 L380.2 27.8 L380.7 27.6 L381.2 27.4 L381.8 27.2 L382.3 27.0 L382.8 26.9 L383.0 26.7 L383.1 26.5 L383.1 26.2 L383.0 26.0 L382.8 25.8 L382.6 25.6 L382.4 25.5 L382.1 25.4 L381.8 25.4 L381.4 25.3 L381.0 25.4 L380.6 25.4 L380.2 25.5 L379.9 25.7 L379.5 26.0 L379.2 26.2 L378.9 26.6 L378.6 26.9 L378.5 27.3 L378.3 27.7 L378.3 28.1 L378.3 28.6 L378.3 29.0 L378.4 29.4 L378.5 29.8 L378.7 30.1 L379.0 30.3 L379.3 30.6 L379.7 30.8 L380.0 30.9 L380.4 31.0 L380.7 31.0 L381.1 31.0 L381.4 30.9 L381.8 30.8 L382.1 30.7 L382.4 30.5 L382.7 30.3 L383.0 30.1 L383.3 29.8 L383.6 29.5 L383.8 29.2 L384.0 29.0" fill="none" stroke="#fff" stroke-width="2.00" stroke-linecap="round" stroke-linejoin="round"/>
<path d="M324.7 47.3 L324.8 47.9 L325.0 48.8 L325.2 49.8 L325.4 50.9 L325.5 52.0 L325.7 52.9 L325.9 53.8 L326.1 54.7 L326.3 55.5 L326.4 56.3 L326.6 57.0 L326.7 57.4 M329.9 45.7 L329.9 46.0 L329.8 46.6 L329.7 47.2 L329.5 47.8 L329.4 48.3 L329.4 48.7 M334.9 56.2 L336.3 50.4 L337.8 45.0 L341.0 49.7 L344.2 54.8 M336.0 52.3 L336.4 52.3 L336.8 52.2 L337.3 52.1 L337.9 52.0 L338.5 51.9 L339.0 51.8 L339.5 51.7 L340.1 51.5 L340.7 51.4 L341.3 51.3 L341.7 51.1 L342.0 51.1 M346.4 48.9 L349.8 54.0 L352.2 47.7 M355.2 50.0 L355.5 49.9 L355.9 49.8 L356.5 49.6 L357.0 49.4 L357.6 49.2 L358.1 49.0 L358.7 48.9 L359.3 48.7 L359.9 48.5 L360.4 48.3 L360.8 48.1 L361.1 47.9 L361.2 47.7 L361.2 47.5 L361.1 47.3 L360.9 47.1 L360.7 46.9 L360.5 46.7 L360.2 46.6 L359.8 46.6 L359.4 46.5 L359.0 46.5 L358.6 46.6 L358.3 46.7 L357.9 46.9 L357.5 47.1 L357.2 47.4 L356.9 47.7 L356.6 48.1 L356.4 48.5 L356.3 48.9 L356.2 49.3 L356.2 49.8 L356.2 50.2 L356.3 50.7 L356.4 51.0 L356.6 51.3 L356.9 51.6 L357.2 51.9 L357.6 52.1 L357.9 52.2 L358.3 52.3 L358.6 52.4 L359.0 52.4 L359.4 52.3 L359.7 52.2 L360.1 52.1 L360.4 51.9 L360.7 51.7 L361.1 51.4 L361.4 51.1 L361.6 50.8 L361.9 50.6 L362.0 50.4 M364.6 46.0 L364.6 46.3 L364.7 46.8 L364.8 47.3 L364.9 47.9 L365.0 48.4 L365.1 48.9 L365.2 49.4 L365.3 49.9 L365.4 50.4 L365.5 50.9 L365.5 51.3 L365.6 51.6 M365.2 48.5 L365.4 48.2 L365.6 47.8 L365.8 47.3 L366.1 46.9 L366.3 46.4 L366.6 46.1 L366.9 45.9 L367.2 45.7 L367.5 45.6 L367.8 45.6 L368.1 45.6 L368.4 45.6 L368.7 45.8 L368.9 46.0 L369.2 46.2 L369.5 46.5 L369.7 46.9 L369.9 47.3 L370.1 47.8 L370.3 48.4 L370.5 49.1 L370.7 49.8 L370.8 50.4 L370.9 50.8 M376.8 40.9 L376.9 41.6 L377.0 42.6 L377.2 43.8 L377.4 45.0 L377.6 46.2 L377.8 47.0 L377.9 47.6 L378.1 48.1 L378.2 48.4 L378.4 48.7 L378.6 48.9 L378.8 49.1 L379.1 49.2 L379.4 49.2 L379.7 49.1 L380.1 49.0 L380.3 49.0 L380.5 48.9 M373.4 45.3 L373.8 45.2 L374.5 45.0 L375.2 44.8 L376.0 44.7 L376.9 44.5 L377.6 44.3 L378.4 44.1 L379.3 43.8 L380.1 43.6 L380.9 43.4 L381.6 43.2 L382.1 43.0" fill="none" stroke="#fff" stroke-width="2.00" stroke-linecap="round" stroke-linejoin="round"/>
<path d="M419.2 24.0 L419.6 23.9 L420.1 23.9 L420.7 23.8 L421.4 23.7 L422.1 23.6 L422.7 23.6 L423.4 23.5 L424.0 23.5 L424.7 23.5 L425.3 23.5 L426.0 23.5 L426.6 23.5 L427.3 23.4 L428.0 23.3 L428.8 23.2 L429.4 23.1 L430.0 23.1 L430.4 23.0 M424.5 23.6 L424.5 24.1 L424.5 24.8 L424.6 25.7 L424.6 26.6 L424.7 27.6 L424.7 28.4 L424.7 29.3 L424.7 30.2 L424.7 31.1 L424.6 32.0 L424.6 32.7 L424.6 33.2 M433.2 30.3 L433.5 30.3 L434.0 30.2 L434.5 30.1 L435.1 30.0 L435.7 29.9 L436.2 29.8 L436.7 29.7 L437.3 29.6 L437.9 29.6 L438.4 29.5 L438.8 29.4 L439.1 29.2 L439.3 29.0 L439.3 28.8 L439.2 28.6 L439.1 28.4 L438.9 28.2 L438.7 28.0 L438.5 27.9 L438.1 27.7 L437.8 27.7 L437.4 27.6 L437.0 27.6 L436.6 27.6 L436.3 27.8 L435.9 27.9 L435.5 28.2 L435.2 28.4 L434.9 28.7 L434.6 29.0 L434.4 29.4 L434.3 29.8 L434.2 30.2 L434.2 30.7 L434.2 31.1 L434.3 31.5 L434.4 31.8 L434.6 32.1 L434.9 32.4 L435.2 32.6 L435.5 32.8 L435.8 32.9 L436.1 33.0 L436.5 33.1 L436.8 33.1 L437.2 33.0 L437.6 33.0 L437.9 32.9 L438.2 32.7 L438.6 32.5 L438.9 32.3 L439.2 32.0 L439.5 31.8 L439.7 31.7 M443.1 27.9 L443.2 28.2 L443.2 28.7 L443.2 29.2 L443.3 29.7 L443.3 30.2 L443.3 30.7 L443.3 31.2 L443.3 31.7 L443.4 32.2 L443.4 32.7 L443.4 33.0 L443.4 33.3 M443.4 30.4 L443.5 30.1 L443.8 29.8 L444.0 29.3 L444.3 28.9 L444.5 28.5 L444.8 28.3 L445.0 28.1 L445.3 28.0 L445.5 28.0 L445.8 28.0 L446.0 28.0 L446.2 28.1 L446.4 28.3 L446.5 28.5 L446.7 28.8 L446.8 29.1 L447.0 29.5 L447.1 29.9 L447.1 30.4 L447.2 31.0 L447.2 31.6 L447.2 32.3 L447.2 32.8 L447.2 33.2 M447.2 30.4 L447.4 30.1 L447.6 29.8 L447.9 29.3 L448.2 28.9 L448.4 28.6 L448.7 28.3 L449.0 28.2 L449.2 28.1 L449.5 28.1 L449.7 28.1 L450.0 28.2 L450.2 28.3 L450.4 28.5 L450.5 28.8 L450.7 29.1 L450.8 29.4 L450.9 29.8 L451.1 30.2 L451.2 30.7 L451.3 31.3 L451.4 31.9 L451.4 32.5 L451.5 33.0 L451.6 33.4 M455.5 28.2 L455.5 28.6 L455.6 29.3 L455.6 30.1 L455.6 30.9 L455.7 31.8 L455.7 32.5 L455.8 33.3 L455.8 34.0 L455.9 34.8 L456.0 35.5 L456.0 36.1 L456.1 36.5 M455.7 29.2 L455.9 29.1 L456.2 28.8 L456.6 28.5 L457.0 28.3 L457.4 28.0 L457.8 27.9 L458.2 27.9 L458.6 27.9 L459.1 28.0 L459.5 28.2 L459.9 28.3 L460.3 28.5 L460.6 28.8 L460.8 29.1 L461.0 29.5 L461.2 29.8 L461.3 30.2 L461.3 30.5 L461.3 30.9 L461.1 31.3 L460.9 31.7 L460.7 32.1 L460.5 32.4 L460.2 32.6 L459.9 32.8 L459.5 33.0 L459.1 33.1 L458.7 33.1 L458.3 33.2 L457.9 33.1 L457.5 33.1 L457.1 32.9 L456.8 32.7 L456.4 32.5 L456.1 32.4 L455.9 32.3 M470.0 28.8 L469.8 28.7 L469.5 28.5 L469.2 28.3 L468.9 28.2 L468.5 28.0 L468.2 28.0 L467.9 28.0 L467.5 28.1 L467.1 28.2 L466.8 28.3 L466.5 28.5 L466.3 28.7 L466.1 28.8 L466.0 29.1 L465.9 29.3 L465.9 29.5 L465.9 29.8 L466.0 30.0 L466.2 30.1 L466.4 30.3 L466.7 30.4 L467.1 30.5 L467.4 30.6 L467.7 30.8 L468.1 30.9 L468.4 31.0 L468.8 31.1 L469.1 31.3 L469.4 31.4 L469.6 31.5 L469.7 31.7 L469.8 31.9 L469.9 32.1 L469.9 32.3 L469.8 32.5 L469.7 32.7 L469.6 32.8 L469.3 33.0 L469.1 33.2 L468.7 33.3 L468.4 33.4 L468.0 33.5 L467.5 33.4 L467.0 33.3 L466.5 33.2 L465.9 33.0 L465.5 32.9 L465.1 32.8 M488.7 29.6 L488.5 29.4 L488.3 29.2 L488.0 28.9 L487.6 28.6 L487.3 28.4 L487.0 28.3 L486.6 28.3 L486.3 28.4 L485.9 28.5 L485.5 28.6 L485.2 28.8 L484.9 29.0 L484.6 29.3 L484.4 29.6 L484.1 29.9 L483.9 30.3 L483.8 30.7 L483.7 31.0 L483.8 31.4 L483.9 31.7 L484.1 32.1 L484.3 32.5 L484.5 32.8 L484.8 33.0 L485.0 33.2 L485.4 33.3 L485.7 33.4 L486.0 33.4 L486.4 33.4 L486.7 33.3 L487.0 33.1 L487.4 32.8 L487.8 32.4 L488.1 32.0 L488.4 31.7 L488.6 31.5 M489.1 23.5 L489.1 24.1 L489.1 25.0 L489.1 26.1 L489.2 27.2 L489.2 28.3 L489.2 29.2 L489.3 30.1 L489.4 30.9 L489.5 31.7 L489.6 32.4 L489.7 33.0 L489.7 33.5 M493.4 30.6 L493.7 30.6 L494.2 30.5 L494.7 30.4 L495.3 30.3 L495.8 30.2 L496.4 30.1 L496.9 30.0 L497.5 30.0 L498.1 29.9 L498.6 29.8 L499.0 29.7 L499.3 29.5 L499.5 29.4 L499.5 29.1 L499.4 28.9 L499.3 28.7 L499.1 28.5 L498.9 28.3 L498.6 28.2 L498.3 28.1 L498.0 28.0 L497.6 27.9 L497.2 27.9 L496.8 28.0 L496.5 28.1 L496.1 28.2 L495.7 28.5 L495.3 28.7 L495.0 29.0 L494.8 29.3 L494.6 29.7 L494.5 30.1 L494.4 30.5 L494.4 31.0 L494.4 31.4 L494.4 31.8 L494.6 32.1 L494.8 32.4 L495.1 32.7 L495.4 32.9 L495.7 33.1 L496.0 33.3 L496.3 33.3 L496.7 33.4 L497.0 33.4 L497.4 33.3 L497.8 33.3 L498.1 33.2 L498.4 33.0 L498.8 32.8 L499.1 32.6 L499.4 32.3 L499.6 32.1 L499.8 32.0" fill="none" stroke="#4a1a63" stroke-width="1.80" stroke-linecap="round" stroke-linejoin="round"/>
<path d="M478.7 52.4 L479.0 47.0 L479.2 42.3 L483.0 47.2 L486.9 52.2 L487.4 47.1 L488.0 41.7 M495.8 46.9 L495.5 47.0 L495.2 47.1 L494.8 47.3 L494.4 47.4 L494.0 47.6 L493.7 47.8 L493.4 48.1 L493.2 48.4 L493.0 48.8 L492.8 49.1 L492.7 49.5 L492.6 49.8 L492.7 50.2 L492.8 50.5 L493.0 50.9 L493.2 51.3 L493.5 51.6 L493.7 51.8 L494.0 52.0 L494.3 52.2 L494.6 52.3 L495.0 52.4 L495.4 52.4 L495.7 52.4 L496.1 52.3 L496.4 52.2 L496.8 52.0 L497.2 51.9 L497.5 51.6 L497.8 51.4 L498.0 51.1 L498.2 50.8 L498.3 50.5 L498.4 50.1 L498.4 49.7 L498.4 49.4 L498.4 49.1 L498.3 48.7 L498.1 48.4 L497.9 48.0 L497.7 47.7 L497.5 47.5 L497.2 47.3 L496.8 47.2 L496.4 47.1 L496.0 47.0 L495.6 46.9 L495.4 46.9 M502.6 49.5 L502.9 49.5 L503.4 49.4 L503.9 49.3 L504.5 49.2 L505.1 49.1 L505.7 49.0 L506.2 48.9 L506.8 48.9 L507.4 48.8 L508.0 48.7 L508.4 48.6 L508.7 48.4 L508.9 48.2 L508.9 48.0 L508.8 47.8 L508.7 47.5 L508.5 47.3 L508.3 47.1 L508.0 47.0 L507.7 46.9 L507.3 46.8 L506.9 46.7 L506.5 46.7 L506.1 46.8 L505.8 46.9 L505.4 47.1 L505.0 47.3 L504.6 47.6 L504.3 47.9 L504.0 48.2 L503.8 48.6 L503.7 49.0 L503.6 49.5 L503.6 49.9 L503.6 50.3 L503.6 50.7 L503.8 51.1 L504.0 51.4 L504.3 51.7 L504.6 51.9 L504.9 52.1 L505.3 52.3 L505.6 52.4 L506.0 52.4 L506.3 52.4 L506.7 52.4 L507.1 52.3 L507.4 52.2 L507.8 52.0 L508.1 51.8 L508.5 51.6 L508.8 51.3 L509.1 51.1 L509.3 51.0 M513.8 42.5 L513.8 43.1 L513.9 44.0 L513.9 45.1 L513.9 46.2 L513.9 47.2 L514.0 48.2 L514.0 49.1 L514.0 50.0 L514.1 50.8 L514.1 51.6 L514.2 52.2 L514.2 52.7" fill="none" stroke="#4a1a63" stroke-width="1.80" stroke-linecap="round" stroke-linejoin="round"/><circle cx="504.7" cy="44.6" r="1.12" fill="#4a1a63"/><circle cx="507.4" cy="44.2" r="1.12" fill="#4a1a63"/>
<path d="M382.0 401.4 L382.3 401.3 L382.9 401.3 L383.5 401.2 L384.1 401.1 L384.8 401.0 L385.4 401.0 L386.1 400.9 L386.7 400.9 L387.4 400.9 L388.1 400.9 L388.7 400.9 L389.4 400.9 L390.0 400.8 L390.8 400.8 L391.5 400.7 L392.1 400.6 L392.7 400.5 L393.1 400.4 M387.2 401.0 L387.2 401.5 L387.3 402.2 L387.3 403.1 L387.4 404.1 L387.4 405.0 L387.4 405.9 L387.4 406.7 L387.4 407.6 L387.4 408.6 L387.3 409.4 L387.3 410.1 L387.3 410.6 M395.8 407.7 L396.1 407.7 L396.6 407.6 L397.1 407.5 L397.7 407.4 L398.3 407.3 L398.8 407.2 L399.3 407.2 L399.9 407.1 L400.5 407.0 L401.0 406.9 L401.4 406.8 L401.7 406.6 L401.9 406.5 L401.9 406.3 L401.8 406.0 L401.7 405.8 L401.5 405.6 L401.3 405.4 L401.1 405.3 L400.7 405.2 L400.4 405.1 L400.0 405.0 L399.6 405.0 L399.2 405.1 L398.9 405.2 L398.5 405.4 L398.1 405.6 L397.8 405.8 L397.5 406.1 L397.2 406.4 L397.0 406.8 L396.9 407.2 L396.8 407.7 L396.8 408.1 L396.8 408.5 L396.9 408.9 L397.0 409.2 L397.2 409.5 L397.5 409.8 L397.8 410.0 L398.1 410.2 L398.4 410.4 L398.7 410.5 L399.1 410.5 L399.4 410.5 L399.8 410.5 L400.2 410.4 L400.5 410.3 L400.8 410.1 L401.2 409.9 L401.5 409.7 L401.8 409.4 L402.1 409.2 L402.2 409.1 M405.6 405.4 L405.7 405.7 L405.7 406.1 L405.7 406.6 L405.7 407.1 L405.8 407.7 L405.8 408.2 L405.8 408.6 L405.8 409.1 L405.8 409.6 L405.9 410.1 L405.9 410.5 L405.9 410.8 M405.9 407.8 L406.0 407.6 L406.3 407.2 L406.5 406.8 L406.8 406.4 L407.0 406.0 L407.3 405.7 L407.5 405.6 L407.8 405.5 L408.0 405.4 L408.3 405.4 L408.5 405.5 L408.7 405.6 L408.9 405.7 L409.0 405.9 L409.2 406.2 L409.3 406.5 L409.5 406.9 L409.5 407.3 L409.6 407.8 L409.7 408.4 L409.7 409.1 L409.7 409.7 L409.7 410.2 L409.7 410.6 M409.7 407.8 L409.9 407.6 L410.1 407.2 L410.4 406.8 L410.7 406.4 L410.9 406.0 L411.2 405.8 L411.5 405.6 L411.7 405.5 L412.0 405.5 L412.2 405.5 L412.5 405.6 L412.7 405.8 L412.9 406.0 L413.0 406.2 L413.2 406.5 L413.3 406.9 L413.4 407.3 L413.5 407.7 L413.7 408.2 L413.8 408.8 L413.9 409.4 L413.9 410.0 L414.0 410.5 L414.0 410.8 M417.9 405.6 L417.9 406.1 L417.9 406.8 L418.0 407.6 L418.0 408.4 L418.1 409.2 L418.1 410.0 L418.2 410.7 L418.2 411.5 L418.3 412.3 L418.4 413.0 L418.4 413.6 L418.4 414.0 M418.1 406.7 L418.3 406.5 L418.6 406.3 L418.9 406.0 L419.3 405.7 L419.8 405.5 L420.2 405.4 L420.6 405.4 L421.0 405.4 L421.5 405.5 L421.9 405.6 L422.3 405.8 L422.7 406.0 L423.0 406.3 L423.2 406.6 L423.4 406.9 L423.6 407.3 L423.7 407.7 L423.7 408.0 L423.7 408.4 L423.5 408.8 L423.3 409.2 L423.1 409.5 L422.8 409.8 L422.6 410.1 L422.2 410.3 L421.9 410.4 L421.5 410.5 L421.1 410.6 L420.7 410.6 L420.3 410.6 L419.9 410.5 L419.5 410.4 L419.2 410.2 L418.8 410.0 L418.5 409.8 L418.3 409.7 M432.3 406.3 L432.1 406.2 L431.8 406.0 L431.5 405.8 L431.2 405.6 L430.8 405.5 L430.5 405.5 L430.2 405.5 L429.8 405.6 L429.4 405.7 L429.1 405.8 L428.8 406.0 L428.6 406.1 L428.4 406.3 L428.3 406.5 L428.2 406.8 L428.2 407.0 L428.2 407.2 L428.3 407.4 L428.5 407.6 L428.7 407.7 L429.0 407.9 L429.4 408.0 L429.7 408.1 L430.0 408.2 L430.3 408.4 L430.7 408.5 L431.0 408.6 L431.4 408.7 L431.6 408.9 L431.9 409.0 L432.0 409.2 L432.1 409.4 L432.2 409.6 L432.2 409.8 L432.1 410.0 L432.0 410.2 L431.9 410.3 L431.6 410.5 L431.3 410.7 L431.0 410.8 L430.7 410.9 L430.3 410.9 L429.8 410.9 L429.3 410.8 L428.7 410.7 L428.2 410.5 L427.7 410.4 L427.4 410.3 M448.5 402.0 L448.4 402.5 L448.4 403.2 L448.3 404.1 L448.3 405.0 L448.2 405.9 L448.2 406.7 L448.1 407.5 L448.1 408.3 L448.1 409.2 L448.0 409.9 L448.0 410.6 L448.0 411.1 M445.6 403.7 L445.8 403.5 L446.0 403.2 L446.2 402.8 L446.5 402.4 L446.9 402.0 L447.3 401.7 L447.7 401.4 L448.3 401.2 L448.9 401.0 L449.5 400.8 L450.1 400.7 L450.7 400.6 L451.4 400.6 L452.1 400.7 L452.8 400.8 L453.4 400.9 L454.1 401.1 L454.6 401.4 L455.0 401.7 L455.4 402.0 L455.8 402.4 L456.0 402.8 L456.2 403.2 L456.2 403.6 L456.1 404.0 L455.9 404.5 L455.5 404.9 L455.1 405.3 L454.7 405.7 L454.2 406.0 L453.7 406.2 L453.1 406.4 L452.5 406.5 L451.8 406.6 L451.2 406.7 L450.7 406.7 L450.2 406.7 L449.7 406.6 L449.3 406.4 L448.9 406.3 L448.5 406.1 L448.3 406.0 M464.9 406.9 L464.7 406.8 L464.4 406.5 L464.1 406.3 L463.8 406.1 L463.5 405.9 L463.1 405.8 L462.8 405.8 L462.4 405.8 L462.0 406.0 L461.7 406.1 L461.3 406.3 L461.0 406.5 L460.8 406.8 L460.5 407.1 L460.3 407.5 L460.1 407.9 L459.9 408.3 L459.9 408.6 L459.9 409.0 L460.0 409.4 L460.2 409.7 L460.4 410.1 L460.7 410.4 L460.9 410.6 L461.2 410.8 L461.5 410.9 L461.8 411.0 L462.2 411.0 L462.5 411.0 L462.8 410.9 L463.2 410.8 L463.5 410.6 L463.8 410.3 L464.1 410.0 L464.4 409.7 L464.6 409.3 L464.7 408.7 L464.9 408.1 L464.9 407.4 L465.0 406.7 L465.0 406.2 L465.0 406.0 L465.1 406.2 L465.1 406.7 L465.0 407.3 L465.0 408.1 L465.1 408.7 L465.1 409.3 L465.2 409.7 L465.4 410.0 L465.6 410.3 L465.8 410.6 L465.9 410.8 L466.1 411.0 M474.5 406.5 L474.3 406.4 L474.0 406.3 L473.7 406.1 L473.4 405.9 L473.0 405.8 L472.7 405.8 L472.3 405.8 L472.0 405.8 L471.6 406.0 L471.3 406.1 L471.0 406.3 L470.8 406.4 L470.6 406.6 L470.5 406.8 L470.4 407.1 L470.4 407.3 L470.4 407.5 L470.5 407.7 L470.7 407.9 L470.9 408.0 L471.2 408.2 L471.6 408.3 L471.9 408.4 L472.2 408.5 L472.5 408.7 L472.9 408.8 L473.2 408.9 L473.6 409.0 L473.8 409.2 L474.0 409.3 L474.2 409.5 L474.3 409.7 L474.4 409.9 L474.4 410.1 L474.3 410.3 L474.2 410.5 L474.0 410.6 L473.8 410.8 L473.5 411.0 L473.2 411.1 L472.8 411.2 L472.5 411.2 L472.0 411.2 L471.5 411.1 L470.9 411.0 L470.4 410.8 L469.9 410.7 L469.6 410.6 M483.0 407.0 L482.8 406.8 L482.6 406.6 L482.3 406.4 L482.0 406.2 L481.7 406.0 L481.4 405.9 L481.0 405.9 L480.7 406.0 L480.3 406.1 L480.0 406.3 L479.6 406.4 L479.4 406.7 L479.1 406.9 L478.9 407.2 L478.6 407.6 L478.5 408.0 L478.4 408.3 L478.3 408.7 L478.3 409.0 L478.4 409.4 L478.5 409.7 L478.7 410.0 L478.9 410.3 L479.2 410.6 L479.4 410.8 L479.7 410.9 L480.1 411.0 L480.4 411.1 L480.8 411.1 L481.1 411.1 L481.5 411.0 L481.9 410.9 L482.3 410.7 L482.7 410.5 L483.0 410.3 L483.2 410.2 M491.8 407.1 L491.6 407.0 L491.3 406.7 L491.0 406.5 L490.7 406.2 L490.4 406.1 L490.0 406.0 L489.7 406.0 L489.3 406.0 L489.0 406.1 L488.6 406.3 L488.2 406.5 L487.9 406.7 L487.7 407.0 L487.4 407.3 L487.2 407.7 L487.0 408.1 L486.9 408.5 L486.8 408.8 L486.8 409.2 L486.9 409.5 L487.1 409.9 L487.3 410.3 L487.6 410.6 L487.8 410.8 L488.1 411.0 L488.4 411.1 L488.7 411.2 L489.1 411.2 L489.4 411.2 L489.7 411.1 L490.1 410.9 L490.4 410.7 L490.7 410.5 L491.0 410.2 L491.3 409.8 L491.5 409.5 L491.6 408.9 L491.8 408.3 L491.8 407.5 L491.9 406.9 L491.9 406.4 L492.0 406.2 L492.0 406.4 L492.0 406.9 L492.0 407.5 L491.9 408.3 L492.0 408.9 L492.0 409.5 L492.1 409.9 L492.3 410.2 L492.5 410.5 L492.7 410.8 L492.8 411.0 L493.0 411.2 M496.7 401.6 L496.8 402.2 L496.8 403.0 L496.8 404.0 L496.8 405.1 L496.9 406.1 L496.9 407.1 L496.9 407.9 L497.0 408.7 L497.0 409.6 L497.1 410.3 L497.1 410.9 L497.1 411.4" fill="none" stroke="#4a1a63" stroke-width="1.80" stroke-linecap="round" stroke-linejoin="round"/>
<path d="M578.0 52.7 L578.4 52.8 L578.9 53.0 L579.5 53.2 L580.1 53.4 L580.7 53.6 L581.3 53.8 L581.9 54.1 L582.5 54.3 L583.1 54.6 L583.7 54.9 L584.3 55.2 L584.9 55.4 L585.5 55.7 L586.2 55.9 L586.9 56.1 L587.6 56.3 L588.1 56.5 L588.5 56.6 M582.9 54.6 L582.7 55.1 L582.4 55.8 L582.1 56.6 L581.7 57.4 L581.4 58.3 L581.0 59.1 L580.6 59.9 L580.2 60.7 L579.8 61.5 L579.4 62.3 L579.1 62.9 L578.9 63.3 M588.1 64.5 L588.4 64.6 L588.9 64.8 L589.4 64.9 L589.9 65.1 L590.5 65.2 L591.0 65.3 L591.5 65.5 L592.1 65.7 L592.6 65.8 L593.2 66.0 L593.6 66.1 L593.9 66.1 L594.1 66.0 L594.3 65.8 L594.3 65.5 L594.3 65.3 L594.2 65.0 L594.1 64.8 L593.9 64.6 L593.7 64.3 L593.4 64.1 L593.0 63.9 L592.7 63.7 L592.3 63.6 L592.0 63.5 L591.6 63.5 L591.1 63.6 L590.7 63.6 L590.3 63.8 L589.9 64.0 L589.6 64.2 L589.3 64.5 L589.1 64.9 L588.8 65.3 L588.7 65.7 L588.6 66.0 L588.6 66.4 L588.6 66.7 L588.8 67.1 L588.9 67.4 L589.1 67.8 L589.3 68.0 L589.6 68.2 L589.9 68.4 L590.2 68.6 L590.6 68.7 L590.9 68.8 L591.3 68.8 L591.6 68.8 L592.0 68.8 L592.4 68.7 L592.8 68.6 L593.1 68.5 L593.4 68.5 M598.3 66.7 L598.2 67.0 L598.0 67.4 L597.8 67.8 L597.6 68.3 L597.5 68.8 L597.3 69.3 L597.1 69.7 L596.9 70.2 L596.7 70.6 L596.5 71.1 L596.4 71.4 L596.3 71.7 M597.5 69.0 L597.7 68.8 L598.1 68.6 L598.5 68.3 L598.9 68.0 L599.3 67.8 L599.6 67.7 L599.9 67.6 L600.2 67.6 L600.4 67.7 L600.7 67.8 L600.8 67.9 L601.0 68.1 L601.1 68.3 L601.1 68.6 L601.2 68.9 L601.2 69.3 L601.1 69.6 L601.0 70.0 L600.9 70.5 L600.7 71.1 L600.4 71.7 L600.2 72.3 L600.0 72.8 L599.8 73.1 M601.0 70.6 L601.2 70.4 L601.6 70.2 L602.0 69.9 L602.4 69.6 L602.8 69.4 L603.2 69.3 L603.5 69.3 L603.8 69.3 L604.0 69.4 L604.2 69.5 L604.4 69.7 L604.5 69.9 L604.6 70.2 L604.7 70.5 L604.7 70.8 L604.6 71.2 L604.6 71.6 L604.5 72.0 L604.4 72.5 L604.3 73.1 L604.1 73.7 L603.9 74.3 L603.8 74.8 L603.7 75.1 M609.6 72.0 L609.5 72.5 L609.2 73.1 L608.9 73.8 L608.6 74.6 L608.4 75.4 L608.1 76.1 L607.9 76.8 L607.6 77.5 L607.3 78.3 L607.1 78.9 L606.9 79.5 L606.8 79.9 M609.4 73.1 L609.6 73.0 L610.0 72.9 L610.4 72.8 L610.9 72.7 L611.4 72.7 L611.8 72.7 L612.2 72.9 L612.6 73.1 L613.0 73.3 L613.3 73.6 L613.6 74.0 L613.9 74.3 L614.0 74.6 L614.1 75.0 L614.2 75.4 L614.2 75.8 L614.1 76.2 L614.0 76.5 L613.8 76.9 L613.5 77.2 L613.2 77.4 L612.8 77.7 L612.5 77.9 L612.1 78.0 L611.7 78.0 L611.4 78.0 L611.0 78.0 L610.6 77.9 L610.2 77.7 L609.8 77.6 L609.5 77.3 L609.2 77.0 L609.0 76.7 L608.7 76.4 L608.5 76.1 L608.4 75.9 M622.9 78.5 L622.8 78.3 L622.6 78.1 L622.4 77.8 L622.1 77.5 L621.8 77.2 L621.6 77.0 L621.3 76.9 L620.9 76.8 L620.5 76.8 L620.1 76.8 L619.8 76.8 L619.5 76.9 L619.3 77.0 L619.1 77.2 L618.9 77.3 L618.8 77.6 L618.8 77.8 L618.8 78.0 L618.9 78.2 L619.0 78.4 L619.3 78.7 L619.5 78.9 L619.8 79.2 L620.0 79.4 L620.3 79.7 L620.6 79.9 L620.8 80.2 L621.1 80.4 L621.3 80.6 L621.4 80.9 L621.5 81.1 L621.5 81.3 L621.5 81.5 L621.4 81.7 L621.3 81.9 L621.1 82.0 L620.9 82.1 L620.6 82.1 L620.3 82.1 L619.9 82.1 L619.6 82.1 L619.2 82.0 L618.8 81.8 L618.3 81.5 L617.9 81.1 L617.4 80.8 L617.1 80.5 L616.8 80.3" fill="none" stroke="#fff" stroke-width="2.00" stroke-linecap="round" stroke-linejoin="round"/>
<path d="M635.4 85.9 L635.1 85.9 L634.8 85.8 L634.4 85.7 L634.0 85.6 L633.6 85.5 L633.2 85.6 L632.9 85.6 L632.5 85.8 L632.2 85.9 L631.9 86.1 L631.6 86.4 L631.4 86.6 L631.2 86.9 L631.1 87.3 L631.1 87.7 L631.1 88.1 L631.1 88.5 L631.2 88.8 L631.3 89.1 L631.5 89.4 L631.7 89.7 L631.9 89.9 L632.2 90.1 L632.5 90.3 L632.8 90.4 L633.2 90.5 L633.6 90.6 L634.0 90.6 L634.4 90.6 L634.7 90.6 L635.0 90.5 L635.3 90.3 L635.6 90.1 L635.9 89.9 L636.1 89.6 L636.3 89.3 L636.4 89.0 L636.5 88.7 L636.5 88.3 L636.6 88.0 L636.5 87.6 L636.5 87.3 L636.3 87.0 L636.1 86.7 L635.8 86.3 L635.5 86.1 L635.3 85.8 L635.1 85.7 M641.8 90.2 L641.6 90.4 L641.4 90.8 L641.1 91.2 L640.8 91.7 L640.6 92.1 L640.3 92.5 L640.0 92.9 L639.8 93.4 L639.5 93.8 L639.3 94.2 L639.1 94.5 L638.9 94.8 M640.5 92.4 L640.7 92.3 L641.1 92.1 L641.5 92.0 L641.9 91.8 L642.3 91.7 L642.6 91.6 L642.9 91.5 L643.2 91.5 L643.5 91.6 L643.8 91.6 L644.0 91.7 L644.2 91.8 L644.4 92.0 L644.6 92.2 L644.7 92.5 L644.9 92.7 L645.0 92.9 L645.1 93.1 M652.5 99.1 L652.4 98.8 L652.4 98.5 L652.3 98.1 L652.1 97.7 L652.0 97.4 L651.8 97.1 L651.5 96.9 L651.1 96.7 L650.8 96.6 L650.4 96.5 L650.0 96.5 L649.6 96.5 L649.3 96.5 L648.9 96.7 L648.5 96.8 L648.1 97.0 L647.8 97.2 L647.6 97.5 L647.4 97.8 L647.3 98.2 L647.2 98.6 L647.2 99.0 L647.2 99.4 L647.3 99.7 L647.4 100.0 L647.6 100.3 L647.9 100.6 L648.1 100.8 L648.4 100.9 L648.8 101.0 L649.2 101.1 L649.6 101.0 L650.1 100.9 L650.6 100.8 L651.1 100.7 L651.4 100.6 M656.2 94.2 L655.9 94.8 L655.4 95.5 L654.8 96.4 L654.2 97.4 L653.6 98.3 L653.1 99.1 L652.7 99.8 L652.3 100.6 L652.0 101.3 L651.6 101.9 L651.4 102.5 L651.2 102.9 M658.6 101.8 L658.4 102.0 L658.2 102.4 L658.0 102.7 L657.7 103.2 L657.4 103.6 L657.1 104.0 L656.9 104.4 L656.6 104.8 L656.3 105.2 L656.1 105.6 L655.9 105.9 L655.7 106.1 M663.2 105.0 L663.1 105.2 L662.8 105.6 L662.5 106.0 L662.2 106.4 L661.9 106.8 L661.6 107.2 L661.4 107.6 L661.1 108.0 L660.8 108.4 L660.5 108.8 L660.3 109.1 L660.1 109.4 M662.0 107.1 L662.3 107.0 L662.7 106.8 L663.2 106.7 L663.7 106.5 L664.2 106.4 L664.6 106.4 L664.9 106.4 L665.2 106.5 L665.5 106.7 L665.7 106.8 L665.9 107.1 L666.1 107.3 L666.2 107.6 L666.2 107.9 L666.2 108.2 L666.2 108.6 L666.1 109.0 L666.0 109.4 L665.8 109.9 L665.5 110.5 L665.1 111.1 L664.7 111.6 L664.4 112.1 L664.2 112.5 M674.7 115.1 L674.6 114.9 L674.6 114.6 L674.5 114.2 L674.4 113.8 L674.2 113.5 L674.0 113.2 L673.7 113.0 L673.4 112.8 L673.0 112.7 L672.6 112.6 L672.3 112.5 L671.9 112.5 L671.5 112.6 L671.1 112.7 L670.7 112.8 L670.3 113.0 L670.0 113.2 L669.7 113.5 L669.5 113.8 L669.4 114.2 L669.3 114.6 L669.2 115.0 L669.3 115.4 L669.3 115.7 L669.4 116.0 L669.6 116.3 L669.8 116.6 L670.1 116.8 L670.4 117.0 L670.7 117.1 L671.0 117.2 L671.4 117.2 L671.8 117.2 L672.2 117.1 L672.6 117.0 L673.1 116.8 L673.5 116.5 L674.0 116.1 L674.5 115.5 L674.9 115.0 L675.2 114.7 L675.4 114.6 L675.3 114.7 L675.0 115.1 L674.6 115.6 L674.1 116.2 L673.7 116.7 L673.5 117.2 L673.3 117.5 L673.2 117.9 L673.2 118.3 L673.2 118.6 L673.2 118.9 L673.2 119.1 M680.1 118.0 L679.9 118.3 L679.7 118.6 L679.4 119.0 L679.1 119.4 L678.8 119.8 L678.6 120.2 L678.3 120.5 L678.0 121.0 L677.7 121.4 L677.5 121.8 L677.2 122.1 L677.1 122.3 M684.7 121.3 L684.5 121.5 L684.3 121.9 L684.0 122.3 L683.7 122.7 L683.4 123.1 L683.1 123.5 L682.8 123.9 L682.5 124.3 L682.3 124.8 L682.0 125.1 L681.8 125.5 L681.6 125.7 M683.3 123.4 L683.6 123.3 L683.9 123.2 L684.3 123.0 L684.7 122.9 L685.1 122.8 L685.5 122.7 L685.8 122.7 L686.1 122.7 L686.4 122.7 L686.6 122.8 L686.9 122.9 L687.1 123.0 L687.3 123.2 L687.4 123.4 L687.5 123.7 L687.7 124.0 L687.7 124.2 L687.8 124.3 M689.9 128.2 L690.2 128.3 L690.6 128.5 L691.1 128.8 L691.6 129.0 L692.2 129.3 L692.6 129.5 L693.1 129.8 L693.6 130.1 L694.1 130.3 L694.6 130.6 L695.1 130.7 L695.4 130.8 L695.6 130.7 L695.7 130.6 L695.8 130.4 L695.8 130.1 L695.8 129.8 L695.7 129.6 L695.6 129.3 L695.4 129.0 L695.2 128.7 L694.9 128.5 L694.6 128.2 L694.3 128.0 L693.9 127.9 L693.5 127.8 L693.1 127.8 L692.6 127.8 L692.2 127.9 L691.8 128.0 L691.5 128.1 L691.1 128.4 L690.8 128.7 L690.5 129.0 L690.3 129.4 L690.1 129.7 L690.0 130.1 L690.0 130.4 L690.1 130.8 L690.2 131.2 L690.3 131.5 L690.5 131.8 L690.7 132.1 L691.0 132.3 L691.2 132.6 L691.6 132.7 L691.9 132.9 L692.2 133.0 L692.6 133.1 L693.0 133.1 L693.4 133.1 L693.8 133.1 L694.1 133.1 L694.3 133.1" fill="none" stroke="#fff" stroke-width="2.00" stroke-linecap="round" stroke-linejoin="round"/><circle cx="659.9" cy="99.8" r="1.24" fill="#fff"/><circle cx="681.5" cy="116.0" r="1.24" fill="#fff"/>
<path d="M125.3 285.8 L125.2 285.5 L125.1 284.9 L124.9 284.3 L124.7 283.7 L124.5 283.0 L124.3 282.3 L124.2 281.7 L124.1 281.0 L123.9 280.3 L123.8 279.6 L123.7 278.9 L123.6 278.3 L123.4 277.6 L123.2 276.8 L122.9 276.1 L122.7 275.5 L122.5 274.9 L122.4 274.5 M124.0 280.5 L124.6 280.4 L125.3 280.2 L126.2 280.0 L127.2 279.8 L128.1 279.6 L129.0 279.4 L129.9 279.3 L130.9 279.1 L131.8 279.0 L132.7 278.9 L133.5 278.8 L134.0 278.7 M129.6 270.4 L129.5 270.1 L129.3 269.6 L129.2 269.1 L129.0 268.5 L128.8 267.9 L128.7 267.4 L128.5 266.9 L128.4 266.3 L128.2 265.7 L128.1 265.1 L127.9 264.7 L127.7 264.4 L127.5 264.3 L127.3 264.3 L127.0 264.4 L126.8 264.5 L126.6 264.7 L126.5 265.0 L126.4 265.3 L126.3 265.6 L126.2 266.0 L126.2 266.4 L126.3 266.8 L126.4 267.2 L126.5 267.6 L126.8 267.9 L127.0 268.3 L127.4 268.6 L127.7 268.9 L128.0 269.1 L128.4 269.3 L128.9 269.4 L129.4 269.4 L129.8 269.4 L130.3 269.3 L130.6 269.2 L130.9 269.0 L131.2 268.8 L131.5 268.4 L131.7 268.1 L131.9 267.7 L132.0 267.4 L132.0 267.1 L132.0 266.7 L132.0 266.3 L131.9 265.9 L131.8 265.6 L131.7 265.2 L131.5 264.9 L131.2 264.6 L130.9 264.3 L130.6 264.0 L130.4 263.7 L130.2 263.6 M126.0 260.2 L126.4 260.2 L126.8 260.1 L127.3 260.1 L127.9 260.0 L128.4 260.0 L129.0 259.9 L129.5 259.9 L130.0 259.9 L130.5 259.8 L131.0 259.8 L131.4 259.8 L131.7 259.8 M128.6 259.9 L128.3 259.7 L127.9 259.5 L127.5 259.3 L127.0 259.0 L126.6 258.7 L126.3 258.5 L126.2 258.2 L126.0 258.0 L126.0 257.7 L126.0 257.5 L126.0 257.2 L126.1 257.0 L126.3 256.8 L126.5 256.6 L126.8 256.5 L127.1 256.3 L127.5 256.2 L127.9 256.0 L128.4 256.0 L129.1 255.9 L129.8 255.8 L130.4 255.8 L131.0 255.8 L131.4 255.8 M128.5 255.8 L128.2 255.7 L127.8 255.5 L127.3 255.2 L126.9 254.9 L126.5 254.6 L126.2 254.4 L126.1 254.1 L126.0 253.8 L125.9 253.5 L126.0 253.3 L126.0 253.0 L126.2 252.8 L126.4 252.6 L126.6 252.4 L127.0 252.3 L127.3 252.1 L127.7 252.0 L128.2 251.8 L128.7 251.7 L129.3 251.6 L129.9 251.4 L130.5 251.3 L131.1 251.2 L131.4 251.2 M125.9 247.4 L126.4 247.4 L127.1 247.3 L127.9 247.3 L128.8 247.2 L129.7 247.2 L130.5 247.1 L131.2 247.1 L132.0 247.0 L132.8 246.9 L133.6 246.8 L134.2 246.8 L134.7 246.7 M127.0 247.2 L126.8 247.0 L126.6 246.7 L126.3 246.3 L126.0 245.9 L125.7 245.5 L125.6 245.0 L125.6 244.6 L125.6 244.1 L125.7 243.7 L125.8 243.2 L126.0 242.8 L126.2 242.4 L126.5 242.1 L126.8 241.8 L127.2 241.6 L127.6 241.4 L128.0 241.3 L128.3 241.3 L128.7 241.3 L129.1 241.5 L129.5 241.7 L129.9 241.9 L130.3 242.2 L130.5 242.5 L130.7 242.8 L130.9 243.2 L131.0 243.6 L131.1 244.0 L131.1 244.4 L131.1 244.8 L131.0 245.2 L130.9 245.6 L130.7 246.0 L130.5 246.4 L130.3 246.7 L130.2 246.9 M126.4 232.5 L126.3 232.7 L126.1 233.0 L125.9 233.3 L125.7 233.7 L125.6 234.0 L125.6 234.4 L125.6 234.7 L125.7 235.1 L125.8 235.5 L125.9 235.9 L126.1 236.2 L126.3 236.4 L126.5 236.6 L126.7 236.7 L127.0 236.8 L127.2 236.8 L127.5 236.8 L127.7 236.7 L127.8 236.5 L128.0 236.2 L128.1 235.9 L128.2 235.5 L128.4 235.2 L128.5 234.8 L128.6 234.5 L128.7 234.1 L128.9 233.8 L129.0 233.4 L129.1 233.1 L129.3 232.9 L129.5 232.8 L129.7 232.6 L129.9 232.6 L130.1 232.6 L130.3 232.6 L130.5 232.7 L130.7 232.9 L130.8 233.1 L131.0 233.4 L131.2 233.8 L131.3 234.2 L131.3 234.5 L131.3 235.0 L131.2 235.6 L131.1 236.2 L130.9 236.7 L130.8 237.2 L130.7 237.6" fill="none" stroke="#fff" stroke-width="1.70" stroke-linecap="round" stroke-linejoin="round"/>
<path d="M127.9 214.7 L127.9 214.9 L128.0 215.3 L128.1 215.7 L128.2 216.2 L128.4 216.6 L128.6 216.9 L128.8 217.2 L129.1 217.5 L129.5 217.7 L129.8 217.9 L130.2 218.1 L130.6 218.2 L130.9 218.1 L131.3 218.1 L131.7 217.9 L132.1 217.7 L132.4 217.5 L132.7 217.2 L132.9 217.0 L133.1 216.7 L133.3 216.3 L133.4 216.0 L133.5 215.6 L133.5 215.2 L133.5 214.9 L133.4 214.5 L133.2 214.0 L133.1 213.6 L132.9 213.3 L132.7 213.0 L132.4 212.7 L132.1 212.5 L131.8 212.4 L131.4 212.2 L131.0 212.2 L130.7 212.1 L130.3 212.2 L130.0 212.2 L129.6 212.4 L129.2 212.5 L128.9 212.7 L128.6 213.0 L128.4 213.3 L128.2 213.6 L128.0 214.1 L127.9 214.5 L127.8 214.8 L127.7 215.0 M128.7 206.8 L129.0 206.9 L129.4 206.9 L130.0 206.9 L130.6 207.0 L131.1 207.0 L131.7 207.1 L132.2 207.1 L132.7 207.1 L133.3 207.2 L133.8 207.2 L134.2 207.2 L134.5 207.3 M131.4 206.9 L131.2 206.8 L130.9 206.5 L130.5 206.2 L130.2 205.9 L129.8 205.6 L129.6 205.3 L129.4 205.0 L129.2 204.8 L129.1 204.5 L129.0 204.2 L129.0 203.9 L129.0 203.7 L129.1 203.4 L129.2 203.1 L129.4 202.8 L129.6 202.6 L129.7 202.4 L129.8 202.2 M132.2 192.4 L132.0 192.5 L131.7 192.7 L131.3 193.0 L131.0 193.3 L130.7 193.6 L130.5 194.0 L130.5 194.3 L130.5 194.7 L130.5 195.2 L130.6 195.6 L130.7 196.0 L130.9 196.3 L131.1 196.7 L131.4 197.0 L131.7 197.3 L132.1 197.6 L132.5 197.8 L132.8 197.9 L133.2 197.9 L133.6 197.9 L134.1 197.7 L134.5 197.6 L134.9 197.4 L135.2 197.2 L135.4 196.9 L135.6 196.6 L135.7 196.3 L135.8 195.9 L135.8 195.5 L135.8 195.2 L135.6 194.8 L135.4 194.3 L135.0 193.9 L134.7 193.4 L134.4 193.1 L134.2 192.8 M125.7 190.9 L126.4 191.0 L127.4 191.1 L128.5 191.3 L129.7 191.5 L130.9 191.6 L131.9 191.7 L132.8 191.8 L133.7 191.9 L134.6 191.9 L135.4 191.9 L136.0 191.9 L136.5 192.0 M132.4 185.2 L132.7 185.3 L133.1 185.4 L133.6 185.5 L134.2 185.6 L134.7 185.7 L135.2 185.9 L135.7 186.0 L136.2 186.1 L136.7 186.2 L137.2 186.4 L137.6 186.5 L137.9 186.5 M134.2 179.2 L134.5 179.3 L134.9 179.5 L135.4 179.7 L136.0 179.9 L136.5 180.1 L137.0 180.3 L137.5 180.5 L138.0 180.7 L138.5 180.9 L138.9 181.1 L139.3 181.2 L139.6 181.3 M136.7 180.0 L136.5 179.7 L136.3 179.3 L136.0 178.8 L135.7 178.3 L135.5 177.8 L135.3 177.4 L135.3 177.1 L135.3 176.7 L135.4 176.4 L135.5 176.1 L135.7 175.8 L135.9 175.6 L136.2 175.5 L136.5 175.3 L136.8 175.2 L137.3 175.2 L137.7 175.1 L138.2 175.2 L138.7 175.3 L139.4 175.4 L140.1 175.7 L140.8 175.9 L141.4 176.1 L141.8 176.2 M141.6 165.2 L141.4 165.3 L141.0 165.5 L140.7 165.7 L140.3 166.0 L140.0 166.2 L139.8 166.5 L139.6 166.9 L139.6 167.3 L139.6 167.7 L139.6 168.1 L139.7 168.6 L139.8 169.0 L139.9 169.3 L140.2 169.7 L140.5 170.1 L140.8 170.4 L141.1 170.7 L141.5 170.9 L141.8 171.0 L142.3 171.0 L142.7 171.0 L143.1 170.9 L143.5 170.8 L143.9 170.6 L144.1 170.4 L144.4 170.1 L144.6 169.8 L144.7 169.5 L144.8 169.1 L144.9 168.8 L144.8 168.4 L144.8 168.0 L144.6 167.6 L144.4 167.1 L144.2 166.7 L143.9 166.4 L143.4 166.0 L142.7 165.7 L142.0 165.3 L141.4 165.0 L140.9 164.8 L140.8 164.7 L141.0 164.8 L141.4 164.9 L142.1 165.2 L142.8 165.5 L143.5 165.7 L144.0 165.8 L144.5 165.9 L144.9 165.8 L145.3 165.8 L145.7 165.7 L146.0 165.6 L146.2 165.5 M142.6 159.2 L142.9 159.3 L143.3 159.4 L143.7 159.6 L144.3 159.7 L144.8 159.9 L145.3 160.0 L145.7 160.2 L146.3 160.3 L146.8 160.5 L147.3 160.6 L147.7 160.8 L148.0 160.8 M144.3 153.6 L144.6 153.7 L145.1 153.9 L145.6 154.0 L146.1 154.2 L146.7 154.4 L147.2 154.6 L147.7 154.7 L148.2 154.9 L148.7 155.1 L149.2 155.2 L149.5 155.4 L149.8 155.5 M146.9 154.4 L146.8 154.2 L146.5 153.9 L146.3 153.5 L146.0 153.1 L145.8 152.7 L145.6 152.4 L145.5 152.1 L145.4 151.7 L145.4 151.4 L145.4 151.1 L145.4 150.9 L145.4 150.6 L145.6 150.4 L145.8 150.1 L146.0 149.9 L146.2 149.7 L146.4 149.6 L146.6 149.4 M149.9 146.4 L150.0 146.1 L150.1 145.6 L150.2 145.1 L150.3 144.4 L150.4 143.8 L150.5 143.3 L150.7 142.7 L150.8 142.1 L151.0 141.5 L151.1 140.9 L151.1 140.4 L151.1 140.1 L151.0 139.8 L150.8 139.7 L150.5 139.7 L150.2 139.8 L150.0 139.9 L149.7 140.0 L149.5 140.2 L149.2 140.5 L149.0 140.8 L148.8 141.2 L148.6 141.6 L148.5 142.0 L148.5 142.4 L148.5 142.8 L148.6 143.3 L148.7 143.7 L148.9 144.2 L149.1 144.5 L149.4 144.8 L149.8 145.1 L150.2 145.4 L150.6 145.6 L151.0 145.8 L151.4 145.9 L151.8 145.8 L152.2 145.7 L152.6 145.6 L153.0 145.4 L153.3 145.1 L153.5 144.9 L153.8 144.6 L153.9 144.3 L154.1 143.9 L154.2 143.5 L154.3 143.1 L154.3 142.7 L154.3 142.4 L154.2 141.9 L154.1 141.5 L154.0 141.1 L153.8 140.8 L153.8 140.5" fill="none" stroke="#fff" stroke-width="1.70" stroke-linecap="round" stroke-linejoin="round"/><circle cx="129.9" cy="184.6" r="1.05" fill="#fff"/><circle cx="140.0" cy="158.5" r="1.05" fill="#fff"/>
<path d="M694.3 308.0 L694.5 307.7 L694.9 307.3 L695.3 306.8 L695.8 306.3 L696.3 305.8 L696.8 305.4 L697.3 304.9 L697.8 304.5 L698.4 304.1 L698.9 303.7 L699.4 303.2 L699.9 302.8 L700.5 302.3 L701.0 301.7 L701.5 301.2 L702.0 300.7 L702.4 300.3 L702.7 299.9 M698.2 304.3 L698.6 304.7 L699.1 305.2 L699.7 305.9 L700.4 306.6 L701.0 307.4 L701.6 308.1 L702.1 308.8 L702.7 309.5 L703.3 310.3 L703.8 311.0 L704.3 311.6 L704.6 312.0 M710.2 303.7 L710.4 303.5 L710.7 303.1 L711.0 302.7 L711.4 302.2 L711.8 301.8 L712.1 301.3 L712.5 300.9 L712.9 300.5 L713.3 300.0 L713.6 299.6 L713.9 299.2 L714.0 298.9 L714.0 298.7 L713.9 298.5 L713.7 298.3 L713.4 298.3 L713.2 298.2 L712.9 298.2 L712.6 298.3 L712.3 298.4 L711.9 298.6 L711.6 298.8 L711.3 299.1 L711.0 299.4 L710.8 299.7 L710.7 300.1 L710.5 300.5 L710.4 300.9 L710.4 301.4 L710.4 301.8 L710.5 302.2 L710.7 302.6 L710.9 303.0 L711.2 303.4 L711.4 303.7 L711.7 303.9 L712.1 304.1 L712.4 304.1 L712.8 304.2 L713.2 304.2 L713.6 304.1 L713.9 304.0 L714.3 303.9 L714.6 303.7 L714.8 303.4 L715.1 303.2 L715.3 302.9 L715.5 302.6 L715.7 302.2 L715.8 301.8 L715.9 301.4 L716.0 301.0 L716.0 300.7 L716.1 300.5 M716.0 295.4 L716.2 295.6 L716.6 295.8 L717.0 296.1 L717.5 296.4 L717.9 296.7 L718.3 297.0 L718.7 297.3 L719.1 297.6 L719.5 297.9 L719.9 298.2 L720.2 298.5 L720.4 298.6 M718.1 296.7 L718.0 296.5 L717.8 296.1 L717.7 295.6 L717.5 295.1 L717.4 294.7 L717.3 294.3 L717.4 294.0 L717.4 293.8 L717.5 293.5 L717.7 293.3 L717.9 293.2 L718.1 293.1 L718.3 293.1 L718.6 293.1 L718.9 293.1 L719.3 293.2 L719.6 293.4 L720.0 293.5 L720.4 293.8 L721.0 294.2 L721.5 294.6 L722.0 294.9 L722.4 295.3 L722.7 295.5 M720.5 293.7 L720.4 293.4 L720.3 293.0 L720.1 292.6 L720.0 292.1 L719.9 291.6 L719.8 291.2 L719.9 290.9 L720.0 290.7 L720.1 290.5 L720.3 290.3 L720.5 290.1 L720.8 290.1 L721.1 290.0 L721.4 290.1 L721.7 290.2 L722.1 290.3 L722.5 290.4 L722.9 290.6 L723.3 290.8 L723.8 291.1 L724.4 291.5 L724.9 291.8 L725.3 292.0 L725.6 292.2 M723.5 285.8 L723.9 286.0 L724.5 286.3 L725.2 286.6 L726.0 287.0 L726.7 287.3 L727.4 287.7 L728.1 288.0 L728.8 288.3 L729.5 288.6 L730.2 288.9 L730.7 289.1 L731.1 289.3 M724.5 286.1 L724.5 285.8 L724.4 285.5 L724.3 285.0 L724.3 284.5 L724.3 284.1 L724.4 283.7 L724.5 283.3 L724.8 282.9 L725.1 282.5 L725.4 282.2 L725.8 281.9 L726.1 281.7 L726.5 281.6 L726.9 281.5 L727.3 281.5 L727.7 281.6 L728.1 281.7 L728.4 281.8 L728.7 282.0 L729.0 282.3 L729.2 282.7 L729.4 283.1 L729.6 283.4 L729.7 283.8 L729.7 284.2 L729.6 284.6 L729.5 285.0 L729.4 285.4 L729.2 285.7 L729.0 286.0 L728.8 286.3 L728.5 286.6 L728.1 286.9 L727.8 287.1 L727.5 287.2 L727.3 287.4 M731.9 272.8 L731.7 272.9 L731.5 273.0 L731.1 273.2 L730.8 273.4 L730.5 273.6 L730.3 273.9 L730.1 274.2 L730.0 274.5 L729.9 274.9 L729.8 275.2 L729.8 275.6 L729.8 275.9 L729.9 276.1 L730.0 276.3 L730.2 276.5 L730.4 276.7 L730.6 276.8 L730.8 276.8 L731.0 276.7 L731.3 276.6 L731.5 276.4 L731.8 276.2 L732.1 276.0 L732.4 275.8 L732.7 275.6 L732.9 275.3 L733.2 275.1 L733.5 274.9 L733.8 274.7 L734.0 274.7 L734.2 274.6 L734.5 274.6 L734.7 274.7 L734.8 274.8 L735.0 274.9 L735.0 275.1 L735.1 275.3 L735.1 275.6 L735.1 276.0 L735.0 276.3 L734.9 276.6 L734.8 277.0 L734.5 277.3 L734.1 277.7 L733.7 278.1 L733.3 278.5 L733.0 278.8 L732.7 279.0 M741.2 258.0 L741.0 258.1 L740.6 258.2 L740.3 258.4 L739.9 258.6 L739.6 258.8 L739.4 259.0 L739.2 259.3 L739.1 259.6 L739.0 260.0 L739.0 260.4 L739.0 260.8 L739.1 261.1 L739.2 261.5 L739.3 261.8 L739.5 262.2 L739.8 262.5 L740.0 262.8 L740.3 263.0 L740.6 263.1 L741.0 263.2 L741.4 263.2 L741.8 263.1 L742.2 263.0 L742.5 262.9 L742.8 262.8 L743.0 262.6 L743.2 262.3 L743.4 262.0 L743.5 261.7 L743.6 261.4 L743.5 261.0 L743.4 260.5 L743.2 260.1 L743.1 259.6 L742.9 259.2 L742.8 258.9 M736.0 255.1 L736.6 255.3 L737.4 255.7 L738.3 256.2 L739.3 256.6 L740.3 257.1 L741.1 257.4 L741.9 257.7 L742.6 258.0 L743.4 258.3 L744.1 258.5 L744.6 258.7 L745.0 258.8 M742.2 252.9 L742.5 253.0 L742.9 253.2 L743.4 253.3 L744.0 253.5 L744.5 253.6 L744.9 253.7 L745.3 253.7 L745.6 253.7 L746.0 253.6 L746.3 253.5 L746.6 253.4 L746.8 253.3 L747.0 253.1 L747.2 252.9 L747.4 252.6 L747.5 252.3 L747.5 252.0 L747.6 251.7 L747.5 251.4 L747.5 251.1 L747.3 250.7 L747.2 250.3 L746.9 250.0 L746.6 249.7 L746.2 249.4 L745.6 249.1 L744.9 248.8 L744.2 248.5 L743.8 248.4 L743.6 248.3 L743.8 248.3 L744.2 248.4 L744.9 248.7 L745.6 248.9 L746.3 249.1 L746.8 249.2 L747.2 249.2 L747.5 249.2 L747.9 249.2 L748.1 249.1 L748.3 249.1 L748.5 249.1 M744.4 228.8 L744.2 229.0 L743.8 229.2 L743.5 229.5 L743.1 229.9 L742.8 230.2 L742.6 230.6 L742.5 231.0 L742.5 231.4 L742.5 231.9 L742.6 232.4 L742.7 232.8 L742.9 233.3 L743.1 233.7 L743.4 234.1 L743.8 234.6 L744.2 235.0 L744.6 235.3 L745.0 235.6 L745.4 235.9 L745.9 236.1 L746.4 236.3 L746.9 236.4 L747.4 236.5 L747.8 236.5 L748.3 236.4 L748.8 236.3 L749.2 236.1 L749.7 235.9 L750.1 235.6 L750.4 235.3 L750.7 235.0 L750.9 234.7 L751.1 234.3 L751.3 233.9 L751.4 233.4 L751.4 232.9 L751.4 232.3 L751.3 231.7 L751.1 231.0 L750.8 230.3 L750.6 229.7 L750.5 229.3 M748.0 220.9 L747.9 221.1 L747.7 221.3 L747.5 221.6 L747.3 222.0 L747.2 222.3 L747.1 222.6 L747.1 222.9 L747.2 223.3 L747.3 223.6 L747.5 223.9 L747.7 224.2 L748.0 224.5 L748.2 224.7 L748.6 224.9 L748.9 225.1 L749.3 225.3 L749.6 225.4 L750.0 225.4 L750.3 225.4 L750.6 225.2 L751.0 225.0 L751.3 224.8 L751.6 224.6 L751.8 224.3 L751.9 224.1 L752.0 223.8 L752.0 223.4 L752.0 223.1 L752.0 222.8 L751.9 222.5 L751.7 222.2 L751.5 222.0 L751.3 221.7 L751.0 221.4 L750.6 221.2 L750.2 221.0 L749.7 220.9 L749.1 220.9 L748.4 220.8 L747.8 220.8 L747.4 220.8 L747.2 220.8 L747.4 220.8 L747.8 220.8 L748.4 220.7 L749.1 220.7 L749.7 220.6 L750.2 220.5 L750.6 220.4 L750.9 220.2 L751.2 220.0 L751.4 219.8 L751.6 219.6 L751.8 219.5 M746.4 216.3 L746.7 216.2 L747.1 216.2 L747.5 216.1 L748.0 216.0 L748.5 215.9 L748.9 215.8 L749.4 215.7 L749.8 215.6 L750.3 215.5 L750.7 215.4 L751.0 215.3 L751.3 215.3 M748.7 215.7 L748.5 215.6 L748.2 215.5 L747.8 215.4 L747.4 215.2 L747.1 215.0 L746.8 214.8 L746.6 214.7 L746.4 214.5 L746.3 214.3 L746.1 214.0 L746.0 213.8 L746.0 213.6 L746.0 213.4 L746.0 213.1 L746.1 212.9 L746.2 212.6 L746.2 212.4 L746.3 212.3 M747.3 208.8 L747.2 208.5 L747.0 208.2 L746.8 207.7 L746.6 207.2 L746.4 206.8 L746.2 206.3 L746.0 205.9 L745.8 205.4 L745.6 204.9 L745.4 204.4 L745.2 204.1 L745.0 203.9 L744.8 203.8 L744.6 203.8 L744.4 203.9 L744.3 204.1 L744.1 204.3 L744.0 204.5 L744.0 204.8 L743.9 205.1 L743.9 205.4 L744.0 205.8 L744.1 206.1 L744.2 206.4 L744.4 206.7 L744.6 207.0 L744.9 207.3 L745.2 207.5 L745.5 207.7 L745.9 207.9 L746.2 208.0 L746.6 208.0 L747.0 208.0 L747.4 207.9 L747.8 207.8 L748.1 207.6 L748.3 207.5 L748.6 207.2 L748.7 206.9 L748.9 206.6 L749.0 206.2 L749.0 205.9 L749.1 205.6 L749.0 205.3 L748.9 205.0 L748.8 204.7 L748.7 204.4 L748.5 204.1 L748.3 203.9 L748.0 203.6 L747.7 203.4 L747.5 203.2 L747.2 203.0 L747.0 202.8 M743.6 208.6 L743.3 208.5 L743.0 208.3 L742.5 208.0 L742.1 207.8 L741.8 207.5 L741.6 207.2 L741.6 206.8 L741.7 206.4 L741.9 206.0 L742.2 205.6 L742.4 205.2 L742.5 205.0 M743.1 201.3 L743.3 201.2 L743.6 201.0 L744.0 200.7 L744.4 200.5 L744.8 200.2 L745.2 200.0 L745.5 199.7 L745.9 199.5 L746.3 199.3 L746.7 199.1 L747.0 198.9 L747.2 198.7 M744.9 200.1 L744.6 200.0 L744.2 200.0 L743.8 200.0 L743.3 200.0 L742.9 200.0 L742.6 199.9 L742.4 199.8 L742.2 199.6 L742.0 199.5 L741.9 199.3 L741.9 199.1 L741.9 198.9 L741.9 198.7 L742.0 198.4 L742.1 198.2 L742.3 197.9 L742.6 197.7 L742.8 197.4 L743.2 197.2 L743.6 196.8 L744.1 196.5 L744.6 196.2 L745.1 196.0 L745.3 195.8 M743.2 197.1 L742.9 197.0 L742.5 197.0 L742.1 197.0 L741.6 197.0 L741.2 196.9 L740.9 196.8 L740.6 196.7 L740.5 196.5 L740.3 196.3 L740.2 196.1 L740.2 195.9 L740.2 195.7 L740.3 195.4 L740.4 195.2 L740.6 194.9 L740.8 194.7 L741.1 194.4 L741.3 194.1 L741.7 193.8 L742.1 193.5 L742.5 193.1 L742.9 192.8 L743.3 192.5 L743.5 192.3 M739.4 191.4 L739.2 191.3 L738.9 191.0 L738.5 190.7 L738.1 190.4 L737.7 190.1 L737.3 189.8 L736.9 189.5 L736.5 189.2 L736.1 188.8 L735.8 188.5 L735.4 188.3 L735.2 188.2 L735.0 188.2 L734.8 188.3 L734.7 188.5 L734.6 188.7 L734.6 189.0 L734.6 189.2 L734.7 189.5 L734.8 189.7 L734.9 190.0 L735.1 190.3 L735.4 190.6 L735.6 190.8 L735.9 191.0 L736.2 191.1 L736.6 191.2 L737.0 191.3 L737.4 191.3 L737.7 191.3 L738.1 191.2 L738.4 191.0 L738.8 190.8 L739.1 190.6 L739.3 190.3 L739.5 190.1 L739.7 189.8 L739.7 189.5 L739.8 189.1 L739.7 188.8 L739.7 188.5 L739.6 188.2 L739.5 187.9 L739.3 187.7 L739.1 187.4 L738.8 187.2 L738.6 187.0 L738.3 186.8 L738.0 186.7 L737.7 186.6 L737.3 186.6 L737.0 186.5 L736.7 186.5 L736.5 186.4" fill="none" stroke="#fff" stroke-width="2.00" stroke-linecap="round" stroke-linejoin="round"/>
<path d="M582.5 370.7 L582.2 370.6 L581.8 370.4 L581.4 370.2 L580.9 369.9 L580.5 369.8 L580.0 369.8 L579.6 369.8 L579.1 370.0 L578.7 370.2 L578.2 370.4 L577.8 370.7 L577.5 371.0 L577.3 371.3 L577.0 371.7 L576.9 372.1 L576.7 372.5 L576.7 372.9 L576.7 373.2 L576.8 373.5 L577.0 373.8 L577.3 374.0 L577.6 374.3 L577.9 374.5 L578.3 374.7 L578.8 374.8 L579.4 375.0 L580.0 375.1 L580.6 375.2 L581.2 375.3 L581.7 375.4 L582.1 375.6 L582.5 375.8 L582.9 376.0 L583.2 376.3 L583.5 376.5 L583.6 376.8 L583.7 377.1 L583.7 377.5 L583.6 377.9 L583.5 378.3 L583.2 378.6 L583.0 378.9 L582.7 379.2 L582.3 379.5 L581.9 379.8 L581.5 380.0 L581.0 380.2 L580.5 380.3 L580.0 380.3 L579.3 380.2 L578.7 380.0 L578.0 379.9 L577.5 379.7 L577.1 379.6 M588.0 375.4 L588.4 375.3 L588.8 375.1 L589.3 374.9 L589.8 374.6 L590.4 374.3 L590.9 374.1 L591.4 373.9 L591.9 373.6 L592.5 373.4 L593.0 373.1 L593.4 372.9 L593.7 372.7 L593.8 372.4 L593.7 372.2 L593.6 372.0 L593.4 371.8 L593.1 371.7 L592.9 371.6 L592.6 371.5 L592.2 371.5 L591.8 371.5 L591.4 371.5 L591.0 371.6 L590.7 371.8 L590.4 372.0 L590.0 372.3 L589.7 372.6 L589.5 373.0 L589.2 373.4 L589.1 373.7 L589.0 374.1 L589.0 374.6 L589.0 375.1 L589.1 375.5 L589.2 375.9 L589.4 376.3 L589.6 376.6 L589.9 376.8 L590.3 377.0 L590.7 377.2 L591.0 377.3 L591.4 377.3 L591.7 377.3 L592.1 377.3 L592.5 377.2 L592.8 377.0 L593.2 376.8 L593.5 376.7 L593.7 376.4 L594.0 376.1 L594.3 375.8 L594.5 375.4 L594.7 375.2 L594.9 375.0 M597.2 370.0 L597.4 370.3 L597.6 370.7 L597.8 371.2 L598.0 371.7 L598.3 372.2 L598.5 372.6 L598.7 373.1 L598.9 373.6 L599.2 374.0 L599.4 374.5 L599.5 374.8 L599.6 375.1 M598.5 372.3 L598.5 372.0 L598.6 371.5 L598.6 371.0 L598.7 370.5 L598.8 370.0 L599.0 369.7 L599.1 369.4 L599.3 369.2 L599.5 369.1 L599.7 369.0 L600.0 369.0 L600.2 369.0 L600.5 369.1 L600.7 369.2 L601.0 369.4 L601.2 369.6 L601.5 369.9 L601.8 370.3 L602.0 370.7 L602.3 371.3 L602.6 371.9 L602.9 372.5 L603.1 373.0 L603.2 373.4 M602.1 370.7 L602.2 370.4 L602.2 370.0 L602.3 369.5 L602.4 368.9 L602.6 368.5 L602.7 368.1 L602.9 367.9 L603.1 367.7 L603.4 367.6 L603.6 367.5 L603.9 367.5 L604.1 367.5 L604.4 367.6 L604.6 367.8 L604.9 368.1 L605.2 368.4 L605.5 368.7 L605.7 369.0 L606.0 369.4 L606.4 370.0 L606.7 370.5 L607.0 371.0 L607.3 371.5 L607.5 371.8 M614.6 363.7 L614.3 363.7 L614.0 363.6 L613.6 363.5 L613.2 363.4 L612.8 363.3 L612.4 363.4 L612.1 363.5 L611.8 363.8 L611.5 364.0 L611.2 364.3 L611.0 364.7 L610.8 365.0 L610.6 365.4 L610.5 365.8 L610.5 366.3 L610.4 366.7 L610.5 367.1 L610.6 367.5 L610.8 367.8 L611.0 368.1 L611.4 368.4 L611.7 368.6 L612.1 368.8 L612.4 369.0 L612.7 369.0 L613.1 369.0 L613.4 368.9 L613.8 368.8 L614.1 368.6 L614.3 368.4 L614.6 368.1 L614.8 367.8 L615.0 367.4 L615.2 367.0 L615.3 366.6 L615.3 366.1 L615.2 365.5 L615.0 364.8 L614.8 364.1 L614.6 363.5 L614.4 363.0 L614.4 362.8 L614.5 363.0 L614.7 363.5 L614.9 364.1 L615.2 364.8 L615.5 365.4 L615.8 365.9 L616.1 366.2 L616.4 366.5 L616.7 366.7 L617.0 366.9 L617.3 367.0 L617.4 367.1 M620.0 360.5 L620.1 360.7 L620.3 361.1 L620.5 361.6 L620.7 362.1 L620.9 362.5 L621.1 363.0 L621.2 363.4 L621.4 363.9 L621.6 364.4 L621.8 364.8 L622.0 365.2 L622.1 365.5 M624.8 358.4 L624.9 358.7 L625.1 359.1 L625.3 359.6 L625.5 360.1 L625.8 360.6 L626.0 361.0 L626.2 361.5 L626.4 362.0 L626.6 362.4 L626.8 362.9 L627.0 363.2 L627.1 363.5 M626.0 360.6 L626.1 360.3 L626.2 359.9 L626.3 359.4 L626.4 358.8 L626.6 358.3 L626.7 358.0 L627.0 357.7 L627.2 357.5 L627.5 357.3 L627.8 357.2 L628.0 357.1 L628.3 357.1 L628.6 357.2 L628.9 357.3 L629.3 357.4 L629.6 357.7 L629.9 357.9 L630.2 358.3 L630.5 358.7 L630.9 359.3 L631.2 359.9 L631.6 360.5 L631.8 361.1 L632.0 361.4 M634.8 356.9 L635.1 356.7 L635.4 356.5 L635.9 356.2 L636.4 355.8 L636.9 355.5 L637.4 355.2 L637.8 354.9 L638.4 354.6 L638.9 354.2 L639.3 353.9 L639.7 353.6 L639.9 353.4 L640.0 353.2 L639.9 352.9 L639.8 352.7 L639.6 352.6 L639.3 352.5 L639.0 352.4 L638.7 352.4 L638.4 352.4 L638.0 352.5 L637.6 352.6 L637.2 352.7 L636.9 352.9 L636.6 353.2 L636.3 353.5 L636.0 353.9 L635.8 354.3 L635.7 354.7 L635.6 355.1 L635.5 355.5 L635.6 356.0 L635.7 356.4 L635.8 356.8 L636.0 357.2 L636.2 357.6 L636.5 357.8 L636.8 358.0 L637.2 358.2 L637.6 358.3 L638.0 358.3 L638.3 358.3 L638.7 358.3 L639.0 358.2 L639.4 358.0 L639.7 357.8 L640.0 357.6 L640.3 357.4 L640.5 357.1 L640.8 356.7 L641.0 356.4 L641.2 356.0 L641.3 355.7 L641.5 355.5" fill="none" stroke="#fff" stroke-width="2.00" stroke-linecap="round" stroke-linejoin="round"/><circle cx="619.0" cy="358.1" r="1.24" fill="#fff"/>
<path d="M620.2 374.9 L619.9 374.8 L619.6 374.6 L619.1 374.5 L618.6 374.4 L618.1 374.3 L617.7 374.3 L617.3 374.5 L616.8 374.7 L616.4 374.9 L616.0 375.3 L615.7 375.6 L615.4 375.9 L615.2 376.3 L615.0 376.7 L614.9 377.1 L614.9 377.5 L614.9 377.9 L615.0 378.2 L615.1 378.5 L615.3 378.8 L615.6 379.0 L616.0 379.2 L616.4 379.3 L616.8 379.4 L617.3 379.5 L617.9 379.6 L618.5 379.6 L619.1 379.6 L619.7 379.6 L620.2 379.6 L620.7 379.8 L621.1 379.9 L621.5 380.1 L621.9 380.3 L622.2 380.5 L622.4 380.7 L622.5 381.0 L622.5 381.4 L622.5 381.8 L622.4 382.2 L622.3 382.5 L622.1 382.9 L621.8 383.2 L621.5 383.6 L621.2 383.9 L620.8 384.2 L620.3 384.5 L619.9 384.7 L619.3 384.7 L618.7 384.7 L618.0 384.7 L617.3 384.6 L616.8 384.5 L616.4 384.5 M630.7 375.5 L630.5 375.5 L630.2 375.4 L629.8 375.2 L629.4 375.1 L629.0 375.1 L628.6 375.1 L628.3 375.3 L628.0 375.5 L627.6 375.7 L627.3 376.0 L627.1 376.3 L626.9 376.7 L626.7 377.0 L626.6 377.5 L626.5 377.9 L626.5 378.3 L626.5 378.8 L626.6 379.1 L626.8 379.5 L627.0 379.8 L627.4 380.1 L627.7 380.3 L628.1 380.5 L628.4 380.7 L628.7 380.7 L629.1 380.7 L629.4 380.7 L629.8 380.5 L630.1 380.4 L630.3 380.2 L630.6 379.9 L630.8 379.6 L631.0 379.2 L631.2 378.8 L631.3 378.4 L631.4 377.9 L631.3 377.3 L631.2 376.7 L631.0 375.9 L630.7 375.3 L630.6 374.8 L630.6 374.6 L630.7 374.8 L630.8 375.2 L631.1 375.9 L631.3 376.6 L631.6 377.2 L631.9 377.7 L632.2 378.0 L632.5 378.3 L632.8 378.6 L633.1 378.7 L633.3 378.9 L633.5 379.0 M635.2 372.7 L635.3 372.9 L635.5 373.3 L635.7 373.8 L635.9 374.2 L636.1 374.7 L636.3 375.2 L636.5 375.6 L636.7 376.1 L636.9 376.5 L637.1 377.0 L637.3 377.4 L637.4 377.6 M639.4 370.8 L639.6 371.1 L639.7 371.5 L639.9 372.0 L640.2 372.5 L640.4 373.0 L640.6 373.4 L640.8 373.9 L641.0 374.4 L641.2 374.8 L641.4 375.3 L641.6 375.7 L641.7 375.9 M640.6 373.0 L640.7 372.7 L640.8 372.3 L640.9 371.8 L641.1 371.2 L641.2 370.8 L641.4 370.4 L641.6 370.1 L641.9 369.9 L642.2 369.7 L642.4 369.6 L642.7 369.5 L643.0 369.5 L643.3 369.6 L643.6 369.7 L643.9 369.9 L644.3 370.1 L644.6 370.4 L644.9 370.8 L645.2 371.2 L645.5 371.8 L645.9 372.4 L646.2 373.0 L646.5 373.6 L646.6 373.9 M650.5 362.9 L650.8 363.5 L651.1 364.5 L651.6 365.6 L652.0 366.7 L652.5 367.8 L652.9 368.5 L653.1 369.1 L653.4 369.5 L653.6 369.8 L653.9 370.0 L654.1 370.2 L654.3 370.3 L654.6 370.3 L654.9 370.2 L655.2 370.1 L655.5 370.0 L655.8 369.8 L656.0 369.7 M648.2 367.9 L648.6 367.7 L649.2 367.4 L649.9 367.0 L650.6 366.7 L651.4 366.3 L652.1 365.9 L652.8 365.5 L653.6 365.1 L654.3 364.7 L655.1 364.3 L655.7 364.0 L656.1 363.7 M659.9 365.3 L660.1 365.2 L660.5 364.9 L661.0 364.6 L661.5 364.3 L662.0 364.0 L662.5 363.7 L663.0 363.4 L663.5 363.1 L664.0 362.8 L664.5 362.5 L664.9 362.2 L665.1 362.0 L665.2 361.7 L665.1 361.5 L665.0 361.3 L664.8 361.2 L664.5 361.0 L664.2 361.0 L663.9 360.9 L663.6 360.9 L663.2 361.0 L662.8 361.1 L662.4 361.2 L662.1 361.4 L661.8 361.7 L661.5 362.0 L661.2 362.4 L661.0 362.8 L660.8 363.2 L660.7 363.5 L660.7 364.0 L660.7 364.4 L660.8 364.9 L660.9 365.3 L661.1 365.7 L661.3 366.0 L661.6 366.3 L661.9 366.5 L662.3 366.7 L662.6 366.8 L663.0 366.8 L663.4 366.9 L663.7 366.8 L664.1 366.7 L664.4 366.6 L664.8 366.4 L665.1 366.2 L665.4 366.0 L665.6 365.7 L665.9 365.4 L666.1 365.0 L666.3 364.6 L666.5 364.3 L666.6 364.1" fill="none" stroke="#fff" stroke-width="2.00" stroke-linecap="round" stroke-linejoin="round"/><circle cx="634.2" cy="370.3" r="1.24" fill="#fff"/>
</svg>
</body></html>
